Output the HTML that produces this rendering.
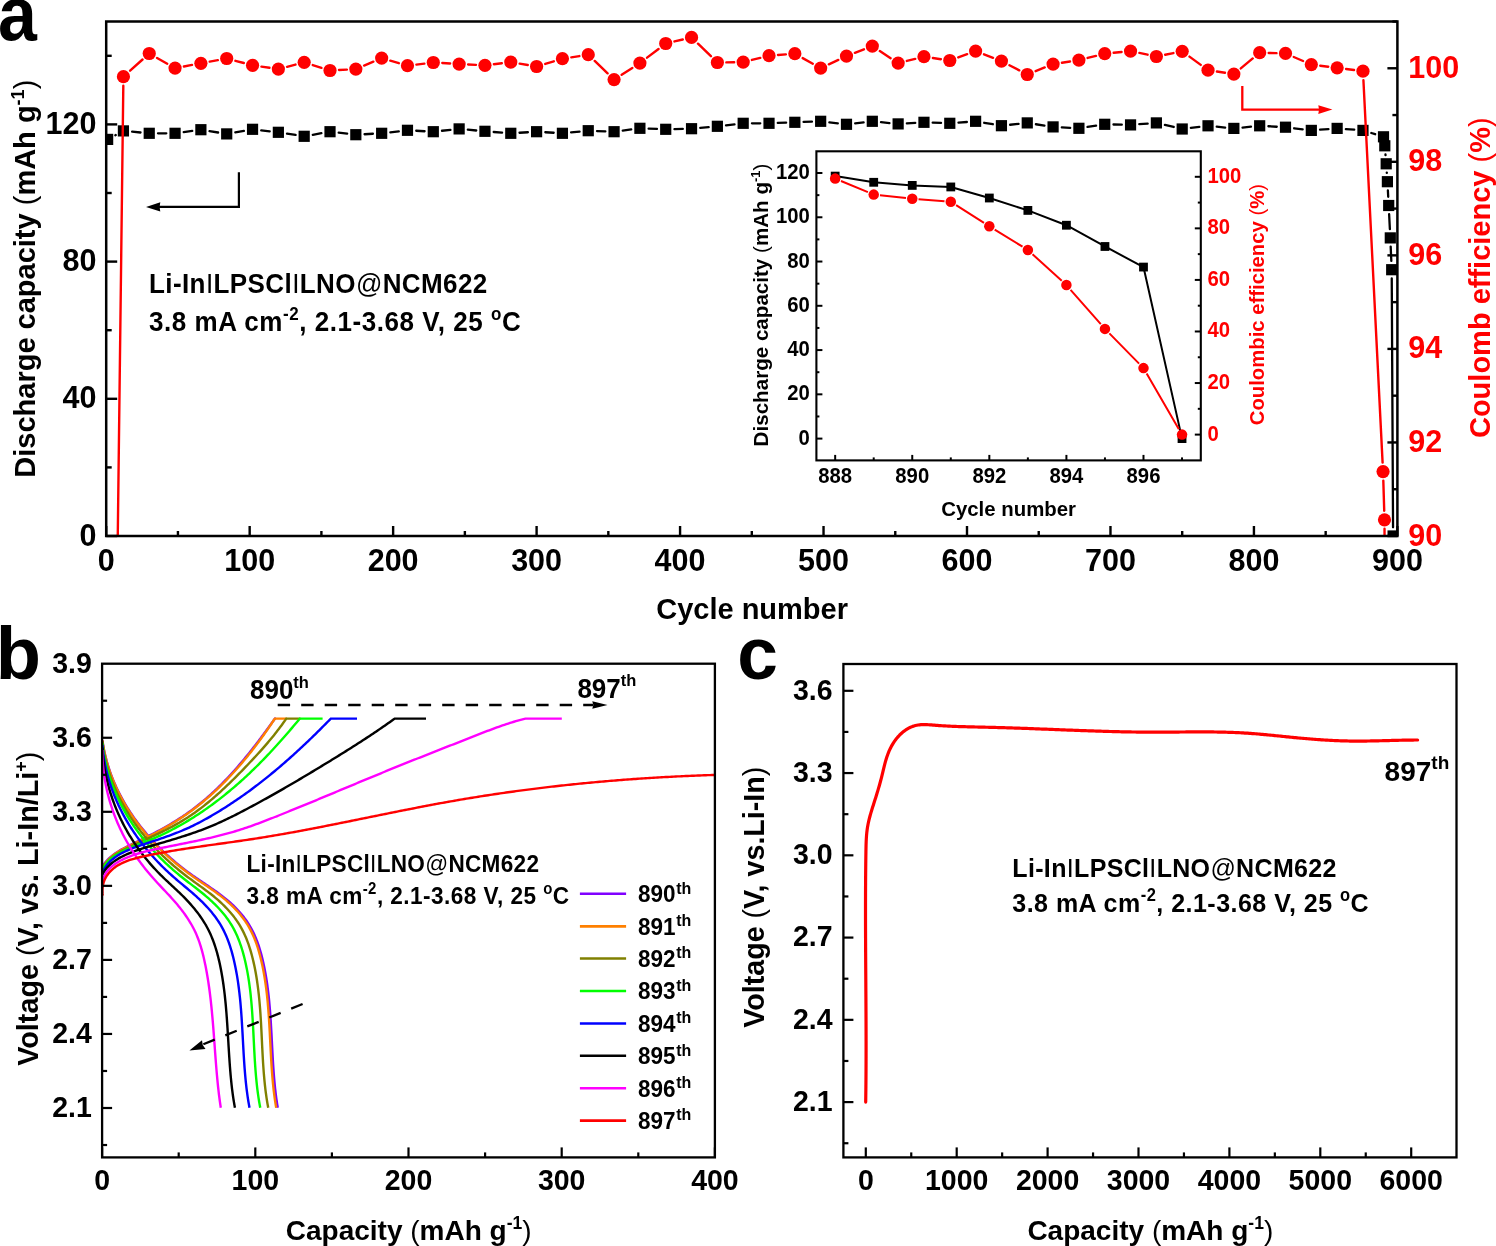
<!DOCTYPE html>
<html><head><meta charset="utf-8"><title>Figure</title>
<style>
html,body{margin:0;padding:0;background:#fff;}
body{width:1496px;height:1246px;overflow:hidden;}
svg{display:block;will-change:transform;}
svg text{font-family:"Liberation Sans", sans-serif;}
</style></head><body>
<svg width="1496" height="1246" viewBox="0 0 1496 1246">
<rect x="0" y="0" width="1496" height="1246" fill="#fff"/>
<defs><clipPath id="clipA"><rect x="106.2" y="21.5" width="1291.2" height="514.5"/></clipPath>
<clipPath id="clipI"><rect x="816.4" y="151.3" width="384.4" height="309.1"/></clipPath>
<clipPath id="clipB"><rect x="102.1" y="663.7" width="612.8" height="493.7"/></clipPath>
<clipPath id="clipC"><rect x="843.4" y="664" width="613.1" height="493.4"/></clipPath></defs>
<g clip-path="url(#clipA)">
<path d="M115.34,135.25L115.71,135.05 M132.13,131.71L140.53,132.49 M157.99,133.3L166.31,133.3 M183.73,132.09L192.22,130.91 M209.52,131.1L218.08,132.5 M235.33,132.37L243.92,130.83 M261.23,130.31L269.67,131.29 M287.01,133.64L295.54,134.96 M312.8,134.77L321.39,133.23 M338.7,132.71L347.14,133.69 M364.57,134.23L372.92,133.77 M390.35,132.29L398.79,131.31 M416.22,130.77L424.57,131.23 M442,130.76L450.43,129.84 M467.84,129.71L476.24,130.49 M493.68,131.98L502.05,132.62 M519.51,132.76L527.87,132.24 M545.33,132.24L553.69,132.76 M571.13,132.42L579.54,131.58 M596.99,131.04L605.33,131.36 M622.75,130.56L631.22,129.44 M648.64,128.64L656.98,128.96 M674.47,129.1L682.8,128.9 M700.26,127.89L708.66,127.11 M726.06,125.29L734.5,124.31 M751.94,123.3L760.27,123.3 M777.76,122.96L786.1,122.64 M803.58,121.96L811.92,121.64 M829.36,122.31L837.8,123.29 M855.18,123.29L863.62,122.31 M881.02,122.18L889.43,123.02 M906.87,123.36L915.23,122.84 M932.7,122.64L941.04,122.96 M958.51,122.62L966.88,121.98 M984.23,122.77L992.81,124.23 M1010.13,124.76L1018.56,123.84 M1035.9,124.24L1044.43,125.56 M1061.82,127.37L1070.17,127.83 M1087.55,126.96L1096.08,125.64 M1113.48,124.5L1121.8,124.7 M1139.28,124.22L1147.65,123.58 M1164.89,124.91L1173.68,126.99 M1190.88,127.92L1199.34,126.88 M1216.73,126.68L1225.14,127.52 M1242.55,127.52L1250.97,126.68 M1268.41,126.27L1276.76,126.73 M1294.18,128.28L1302.64,129.32 M1320.04,129.72L1328.42,129.08 M1345.87,129.08L1354.24,129.72 M1371.32,133L1375.15,134.2 M1385.48,154.52L1385.52,155.08 M1386.79,172.53L1386.81,172.97 M1387.88,190.44L1388.22,196.76 M1389.13,214.24L1389.87,229.16 M1390.68,246.64L1391.32,260.96 M1391.75,278.45L1393.05,527.25" fill="none" stroke="#000" stroke-width="2.3" stroke-linecap="round"/>
<rect x="102.03" y="133.8" width="11.2" height="11.2" fill="#000"/>
<rect x="117.82" y="125.3" width="11.2" height="11.2" fill="#000"/>
<rect x="143.64" y="127.7" width="11.2" height="11.2" fill="#000"/>
<rect x="169.46" y="127.7" width="11.2" height="11.2" fill="#000"/>
<rect x="195.29" y="124.1" width="11.2" height="11.2" fill="#000"/>
<rect x="221.11" y="128.3" width="11.2" height="11.2" fill="#000"/>
<rect x="246.94" y="123.7" width="11.2" height="11.2" fill="#000"/>
<rect x="272.76" y="126.7" width="11.2" height="11.2" fill="#000"/>
<rect x="298.58" y="130.7" width="11.2" height="11.2" fill="#000"/>
<rect x="324.41" y="126.1" width="11.2" height="11.2" fill="#000"/>
<rect x="350.23" y="129.1" width="11.2" height="11.2" fill="#000"/>
<rect x="376.06" y="127.7" width="11.2" height="11.2" fill="#000"/>
<rect x="401.88" y="124.7" width="11.2" height="11.2" fill="#000"/>
<rect x="427.7" y="126.1" width="11.2" height="11.2" fill="#000"/>
<rect x="453.53" y="123.3" width="11.2" height="11.2" fill="#000"/>
<rect x="479.35" y="125.7" width="11.2" height="11.2" fill="#000"/>
<rect x="505.18" y="127.7" width="11.2" height="11.2" fill="#000"/>
<rect x="531" y="126.1" width="11.2" height="11.2" fill="#000"/>
<rect x="556.82" y="127.7" width="11.2" height="11.2" fill="#000"/>
<rect x="582.65" y="125.1" width="11.2" height="11.2" fill="#000"/>
<rect x="608.47" y="126.1" width="11.2" height="11.2" fill="#000"/>
<rect x="634.3" y="122.7" width="11.2" height="11.2" fill="#000"/>
<rect x="660.12" y="123.7" width="11.2" height="11.2" fill="#000"/>
<rect x="685.94" y="123.1" width="11.2" height="11.2" fill="#000"/>
<rect x="711.77" y="120.7" width="11.2" height="11.2" fill="#000"/>
<rect x="737.59" y="117.7" width="11.2" height="11.2" fill="#000"/>
<rect x="763.42" y="117.7" width="11.2" height="11.2" fill="#000"/>
<rect x="789.24" y="116.7" width="11.2" height="11.2" fill="#000"/>
<rect x="815.06" y="115.7" width="11.2" height="11.2" fill="#000"/>
<rect x="840.89" y="118.7" width="11.2" height="11.2" fill="#000"/>
<rect x="866.71" y="115.7" width="11.2" height="11.2" fill="#000"/>
<rect x="892.54" y="118.3" width="11.2" height="11.2" fill="#000"/>
<rect x="918.36" y="116.7" width="11.2" height="11.2" fill="#000"/>
<rect x="944.18" y="117.7" width="11.2" height="11.2" fill="#000"/>
<rect x="970.01" y="115.7" width="11.2" height="11.2" fill="#000"/>
<rect x="995.83" y="120.1" width="11.2" height="11.2" fill="#000"/>
<rect x="1021.66" y="117.3" width="11.2" height="11.2" fill="#000"/>
<rect x="1047.48" y="121.3" width="11.2" height="11.2" fill="#000"/>
<rect x="1073.3" y="122.7" width="11.2" height="11.2" fill="#000"/>
<rect x="1099.13" y="118.7" width="11.2" height="11.2" fill="#000"/>
<rect x="1124.95" y="119.3" width="11.2" height="11.2" fill="#000"/>
<rect x="1150.78" y="117.3" width="11.2" height="11.2" fill="#000"/>
<rect x="1176.6" y="123.4" width="11.2" height="11.2" fill="#000"/>
<rect x="1202.42" y="120.2" width="11.2" height="11.2" fill="#000"/>
<rect x="1228.25" y="122.8" width="11.2" height="11.2" fill="#000"/>
<rect x="1254.07" y="120.2" width="11.2" height="11.2" fill="#000"/>
<rect x="1279.9" y="121.6" width="11.2" height="11.2" fill="#000"/>
<rect x="1305.72" y="124.8" width="11.2" height="11.2" fill="#000"/>
<rect x="1331.54" y="122.8" width="11.2" height="11.2" fill="#000"/>
<rect x="1357.37" y="124.8" width="11.2" height="11.2" fill="#000"/>
<rect x="1377.9" y="131.2" width="11.2" height="11.2" fill="#000"/>
<rect x="1379.2" y="140.2" width="11.2" height="11.2" fill="#000"/>
<rect x="1380.6" y="158.2" width="11.2" height="11.2" fill="#000"/>
<rect x="1381.8" y="176.1" width="11.2" height="11.2" fill="#000"/>
<rect x="1383.1" y="199.9" width="11.2" height="11.2" fill="#000"/>
<rect x="1384.7" y="232.3" width="11.2" height="11.2" fill="#000"/>
<rect x="1386.1" y="264.1" width="11.2" height="11.2" fill="#000"/>
<rect x="1387.5" y="530.4" width="11.2" height="11.2" fill="#000"/>
<path d="M107.75,1349L123.31,85.7 M130.11,70.69L142.54,59.51 M157.07,57.93L167.23,63.67 M183.91,66.46L192.04,64.94 M209.74,61.66L217.86,60.14 M235.42,60.79L243.83,63.01 M261.44,66.61L269.46,67.79 M287.06,66.81L295.48,64.59 M312.76,65.02L321.43,67.78 M338.99,70.01L346.85,69.59 M364.11,65.57L373.38,61.63 M390.29,60.64L398.85,63.16 M416.41,64.59L424.37,63.61 M442.29,63.06L450.15,63.54 M468.12,64.52L475.96,64.88 M493.88,64.19L501.84,63.21 M519.65,63.61L527.73,64.99 M545.22,63.9L553.81,61.3 M571.32,57.32L579.35,56.08 M594.73,60.95L607.59,73.35 M621.66,74.75L632.31,67.95 M647.06,57.66L658.55,48.94 M674.48,41.43L682.79,39.47 M698,43.67L710.91,56.23 M726.37,62.36L734.19,62.24 M751.93,59.94L760.28,57.86 M777.99,55.01L785.87,54.39 M802.7,58.08L812.8,63.72 M828.83,64.31L838.33,59.89 M854.88,52.85L863.92,49.35 M879.83,51.05L890.62,58.15 M906.87,60.94L915.22,58.86 M932.86,58.01L940.88,59.19 M958.24,57.42L967.15,54.18 M984,54.35L993.04,57.85 M1009.42,65.25L1019.27,70.35 M1035.6,71.14L1044.73,67.46 M1061.97,62.72L1070.01,61.48 M1087.64,57.94L1095.99,55.86 M1113.68,52.8L1121.6,52 M1139.36,52.94L1147.57,54.66 M1165.2,54.72L1173.38,53.08 M1189.46,56.62L1200.76,64.88 M1216.92,71.54L1224.95,72.76 M1240.78,68.36L1252.74,58.44 M1268.67,52.94L1276.5,53.16 M1293.75,56.98L1303.06,61.02 M1320.25,65.71L1328.21,66.69 M1346.07,68.97L1354.05,70.03 M1363.42,80.19L1382.6,462.61 M1383.32,480.6L1384.22,510.8 M1384.52,528.8L1385.89,957.31 M1385.94,975.31L1393.08,4736.55" fill="none" stroke="#ff0000" stroke-width="2.4" stroke-linecap="round"/>
<circle cx="123.42" cy="76.7" r="6.6" fill="#ff0000"/>
<circle cx="149.24" cy="53.5" r="6.6" fill="#ff0000"/>
<circle cx="175.06" cy="68.1" r="6.6" fill="#ff0000"/>
<circle cx="200.89" cy="63.3" r="6.6" fill="#ff0000"/>
<circle cx="226.71" cy="58.5" r="6.6" fill="#ff0000"/>
<circle cx="252.54" cy="65.3" r="6.6" fill="#ff0000"/>
<circle cx="278.36" cy="69.1" r="6.6" fill="#ff0000"/>
<circle cx="304.18" cy="62.3" r="6.6" fill="#ff0000"/>
<circle cx="330.01" cy="70.5" r="6.6" fill="#ff0000"/>
<circle cx="355.83" cy="69.1" r="6.6" fill="#ff0000"/>
<circle cx="381.66" cy="58.1" r="6.6" fill="#ff0000"/>
<circle cx="407.48" cy="65.7" r="6.6" fill="#ff0000"/>
<circle cx="433.3" cy="62.5" r="6.6" fill="#ff0000"/>
<circle cx="459.13" cy="64.1" r="6.6" fill="#ff0000"/>
<circle cx="484.95" cy="65.3" r="6.6" fill="#ff0000"/>
<circle cx="510.78" cy="62.1" r="6.6" fill="#ff0000"/>
<circle cx="536.6" cy="66.5" r="6.6" fill="#ff0000"/>
<circle cx="562.42" cy="58.7" r="6.6" fill="#ff0000"/>
<circle cx="588.25" cy="54.7" r="6.6" fill="#ff0000"/>
<circle cx="614.07" cy="79.6" r="6.6" fill="#ff0000"/>
<circle cx="639.9" cy="63.1" r="6.6" fill="#ff0000"/>
<circle cx="665.72" cy="43.5" r="6.6" fill="#ff0000"/>
<circle cx="691.54" cy="37.4" r="6.6" fill="#ff0000"/>
<circle cx="717.37" cy="62.5" r="6.6" fill="#ff0000"/>
<circle cx="743.19" cy="62.1" r="6.6" fill="#ff0000"/>
<circle cx="769.02" cy="55.7" r="6.6" fill="#ff0000"/>
<circle cx="794.84" cy="53.7" r="6.6" fill="#ff0000"/>
<circle cx="820.66" cy="68.1" r="6.6" fill="#ff0000"/>
<circle cx="846.49" cy="56.1" r="6.6" fill="#ff0000"/>
<circle cx="872.31" cy="46.1" r="6.6" fill="#ff0000"/>
<circle cx="898.14" cy="63.1" r="6.6" fill="#ff0000"/>
<circle cx="923.96" cy="56.7" r="6.6" fill="#ff0000"/>
<circle cx="949.78" cy="60.5" r="6.6" fill="#ff0000"/>
<circle cx="975.61" cy="51.1" r="6.6" fill="#ff0000"/>
<circle cx="1001.43" cy="61.1" r="6.6" fill="#ff0000"/>
<circle cx="1027.26" cy="74.5" r="6.6" fill="#ff0000"/>
<circle cx="1053.08" cy="64.1" r="6.6" fill="#ff0000"/>
<circle cx="1078.9" cy="60.1" r="6.6" fill="#ff0000"/>
<circle cx="1104.73" cy="53.7" r="6.6" fill="#ff0000"/>
<circle cx="1130.55" cy="51.1" r="6.6" fill="#ff0000"/>
<circle cx="1156.38" cy="56.5" r="6.6" fill="#ff0000"/>
<circle cx="1182.2" cy="51.3" r="6.6" fill="#ff0000"/>
<circle cx="1208.02" cy="70.2" r="6.6" fill="#ff0000"/>
<circle cx="1233.85" cy="74.1" r="6.6" fill="#ff0000"/>
<circle cx="1259.67" cy="52.7" r="6.6" fill="#ff0000"/>
<circle cx="1285.5" cy="53.4" r="6.6" fill="#ff0000"/>
<circle cx="1311.32" cy="64.6" r="6.6" fill="#ff0000"/>
<circle cx="1337.14" cy="67.8" r="6.6" fill="#ff0000"/>
<circle cx="1362.97" cy="71.2" r="6.6" fill="#ff0000"/>
<circle cx="1383.05" cy="471.6" r="6.6" fill="#ff0000"/>
<circle cx="1384.49" cy="519.8" r="6.6" fill="#ff0000"/>
</g>
<polyline points="238.9,172.2 238.9,206.9 158,206.9" fill="none" stroke="#000" stroke-width="2.2" stroke-linejoin="miter" stroke-linecap="butt" />
<polygon points="146,206.9 160.3,202.3 159.6,206.9 160.3,211.5" fill="#000"/>
<polyline points="1242.3,86.1 1242.3,109.6 1320,109.6" fill="none" stroke="#ff0000" stroke-width="2.3" stroke-linejoin="miter" stroke-linecap="butt" />
<polygon points="1332.4,109.6 1318.3,105.2 1319,109.6 1318.3,114" fill="#ff0000"/>
<rect x="106.2" y="21.5" width="1291.2" height="514.5" fill="none" stroke="#000" stroke-width="2.5"/>
<line x1="106.2" y1="536" x2="117.2" y2="536" stroke="#000" stroke-width="2.4" />
<line x1="106.2" y1="467.4" x2="111.7" y2="467.4" stroke="#000" stroke-width="2.4" />
<line x1="106.2" y1="398.8" x2="117.2" y2="398.8" stroke="#000" stroke-width="2.4" />
<line x1="106.2" y1="330.2" x2="111.7" y2="330.2" stroke="#000" stroke-width="2.4" />
<line x1="106.2" y1="261.6" x2="117.2" y2="261.6" stroke="#000" stroke-width="2.4" />
<line x1="106.2" y1="193" x2="111.7" y2="193" stroke="#000" stroke-width="2.4" />
<line x1="106.2" y1="124.4" x2="117.2" y2="124.4" stroke="#000" stroke-width="2.4" />
<line x1="106.2" y1="55.8" x2="111.7" y2="55.8" stroke="#000" stroke-width="2.4" />
<text x="96.5" y="545.5" font-size="30.5" text-anchor="end" fill="#000" font-weight="bold" >0</text>
<text x="96.5" y="408.3" font-size="30.5" text-anchor="end" fill="#000" font-weight="bold" >40</text>
<text x="96.5" y="271.1" font-size="30.5" text-anchor="end" fill="#000" font-weight="bold" >80</text>
<text x="96.5" y="133.9" font-size="30.5" text-anchor="end" fill="#000" font-weight="bold" >120</text>
<line x1="1387.4" y1="536" x2="1397.4" y2="536" stroke="#000" stroke-width="2.4" />
<line x1="1392.4" y1="489.23" x2="1397.4" y2="489.23" stroke="#000" stroke-width="2.4" />
<line x1="1387.4" y1="442.45" x2="1397.4" y2="442.45" stroke="#000" stroke-width="2.4" />
<line x1="1392.4" y1="395.68" x2="1397.4" y2="395.68" stroke="#000" stroke-width="2.4" />
<line x1="1387.4" y1="348.91" x2="1397.4" y2="348.91" stroke="#000" stroke-width="2.4" />
<line x1="1392.4" y1="302.14" x2="1397.4" y2="302.14" stroke="#000" stroke-width="2.4" />
<line x1="1387.4" y1="255.36" x2="1397.4" y2="255.36" stroke="#000" stroke-width="2.4" />
<line x1="1392.4" y1="208.59" x2="1397.4" y2="208.59" stroke="#000" stroke-width="2.4" />
<line x1="1387.4" y1="161.82" x2="1397.4" y2="161.82" stroke="#000" stroke-width="2.4" />
<line x1="1392.4" y1="115.05" x2="1397.4" y2="115.05" stroke="#000" stroke-width="2.4" />
<line x1="1387.4" y1="68.27" x2="1397.4" y2="68.27" stroke="#000" stroke-width="2.4" />
<line x1="1392.4" y1="21.5" x2="1397.4" y2="21.5" stroke="#000" stroke-width="2.4" />
<text x="1408.3" y="545.5" font-size="30.5" text-anchor="start" fill="#ff0000" font-weight="bold" >90</text>
<text x="1408.3" y="451.95" font-size="30.5" text-anchor="start" fill="#ff0000" font-weight="bold" >92</text>
<text x="1408.3" y="358.41" font-size="30.5" text-anchor="start" fill="#ff0000" font-weight="bold" >94</text>
<text x="1408.3" y="264.86" font-size="30.5" text-anchor="start" fill="#ff0000" font-weight="bold" >96</text>
<text x="1408.3" y="171.32" font-size="30.5" text-anchor="start" fill="#ff0000" font-weight="bold" >98</text>
<text x="1408.3" y="77.77" font-size="30.5" text-anchor="start" fill="#ff0000" font-weight="bold" >100</text>
<line x1="106.2" y1="526" x2="106.2" y2="536" stroke="#000" stroke-width="2.4" />
<line x1="177.93" y1="531" x2="177.93" y2="536" stroke="#000" stroke-width="2.4" />
<line x1="249.67" y1="526" x2="249.67" y2="536" stroke="#000" stroke-width="2.4" />
<line x1="321.4" y1="531" x2="321.4" y2="536" stroke="#000" stroke-width="2.4" />
<line x1="393.13" y1="526" x2="393.13" y2="536" stroke="#000" stroke-width="2.4" />
<line x1="464.87" y1="531" x2="464.87" y2="536" stroke="#000" stroke-width="2.4" />
<line x1="536.6" y1="526" x2="536.6" y2="536" stroke="#000" stroke-width="2.4" />
<line x1="608.33" y1="531" x2="608.33" y2="536" stroke="#000" stroke-width="2.4" />
<line x1="680.07" y1="526" x2="680.07" y2="536" stroke="#000" stroke-width="2.4" />
<line x1="751.8" y1="531" x2="751.8" y2="536" stroke="#000" stroke-width="2.4" />
<line x1="823.53" y1="526" x2="823.53" y2="536" stroke="#000" stroke-width="2.4" />
<line x1="895.27" y1="531" x2="895.27" y2="536" stroke="#000" stroke-width="2.4" />
<line x1="967" y1="526" x2="967" y2="536" stroke="#000" stroke-width="2.4" />
<line x1="1038.73" y1="531" x2="1038.73" y2="536" stroke="#000" stroke-width="2.4" />
<line x1="1110.47" y1="526" x2="1110.47" y2="536" stroke="#000" stroke-width="2.4" />
<line x1="1182.2" y1="531" x2="1182.2" y2="536" stroke="#000" stroke-width="2.4" />
<line x1="1253.93" y1="526" x2="1253.93" y2="536" stroke="#000" stroke-width="2.4" />
<line x1="1325.67" y1="531" x2="1325.67" y2="536" stroke="#000" stroke-width="2.4" />
<line x1="1397.4" y1="526" x2="1397.4" y2="536" stroke="#000" stroke-width="2.4" />
<text x="106.2" y="570.6" font-size="30.5" text-anchor="middle" fill="#000" font-weight="bold" >0</text>
<text x="249.67" y="570.6" font-size="30.5" text-anchor="middle" fill="#000" font-weight="bold" >100</text>
<text x="393.13" y="570.6" font-size="30.5" text-anchor="middle" fill="#000" font-weight="bold" >200</text>
<text x="536.6" y="570.6" font-size="30.5" text-anchor="middle" fill="#000" font-weight="bold" >300</text>
<text x="680.07" y="570.6" font-size="30.5" text-anchor="middle" fill="#000" font-weight="bold" >400</text>
<text x="823.53" y="570.6" font-size="30.5" text-anchor="middle" fill="#000" font-weight="bold" >500</text>
<text x="967" y="570.6" font-size="30.5" text-anchor="middle" fill="#000" font-weight="bold" >600</text>
<text x="1110.47" y="570.6" font-size="30.5" text-anchor="middle" fill="#000" font-weight="bold" >700</text>
<text x="1253.93" y="570.6" font-size="30.5" text-anchor="middle" fill="#000" font-weight="bold" >800</text>
<text x="1397.4" y="570.6" font-size="30.5" text-anchor="middle" fill="#000" font-weight="bold" >900</text>
<text transform="translate(35,278.7) rotate(-90)" font-size="29" font-weight="bold" text-anchor="middle" fill="#000">Discharge capacity <tspan font-weight="normal">(</tspan>mAh g<tspan dy="-11" font-size="18">-1</tspan><tspan dy="11" font-weight="normal">)</tspan></text>
<text transform="translate(1489.7,277.7) rotate(-90)" font-size="29" font-weight="bold" text-anchor="middle" fill="#ff0000">Coulomb efficiency <tspan font-weight="normal">(</tspan>%<tspan font-weight="normal">)</tspan></text>
<text x="752.1" y="618.6" font-size="29" text-anchor="middle" fill="#000" font-weight="bold" >Cycle number</text>
<text transform="translate(149,293.4) scale(1,1.06)" font-size="26" font-weight="bold" letter-spacing="0.41" fill="#000">Li-In<tspan font-weight="normal">I</tspan>LPSCl<tspan font-weight="normal">I</tspan>LNO<tspan font-weight="normal">@</tspan>NCM622</text>
<text transform="translate(149,330.9) scale(1,1.06)" font-size="26" font-weight="bold" letter-spacing="0.55" fill="#000">3.8 mA cm<tspan dy="-10.5" font-size="17">-2</tspan><tspan dy="10.5">, 2.1-3.68 V, 25 </tspan><tspan dy="-10.5" font-size="17">o</tspan><tspan dy="10.5">C</tspan></text>
<text transform="translate(-2.0,40.0) scale(0.92,1)" font-size="76" font-weight="bold" fill="#000">a</text>
<rect x="816.4" y="151.3" width="384.4" height="309.1" fill="#fff" stroke="none"/>
<g clip-path="url(#clipI)">
<polyline points="835.17,176.1 873.71,182.3 912.25,185.4 950.79,186.95 989.33,198.01 1027.87,210.41 1066.41,225.24 1104.95,246.49 1143.49,267.07 1182.03,438.6" fill="none" stroke="#000" stroke-width="2.0" stroke-linejoin="round" stroke-linecap="butt" />
<rect x="830.77" y="171.7" width="8.8" height="8.8" fill="#000"/>
<rect x="869.31" y="177.9" width="8.8" height="8.8" fill="#000"/>
<rect x="907.85" y="181" width="8.8" height="8.8" fill="#000"/>
<rect x="946.39" y="182.55" width="8.8" height="8.8" fill="#000"/>
<rect x="984.93" y="193.61" width="8.8" height="8.8" fill="#000"/>
<rect x="1023.47" y="206.01" width="8.8" height="8.8" fill="#000"/>
<rect x="1062.01" y="220.84" width="8.8" height="8.8" fill="#000"/>
<rect x="1100.55" y="242.09" width="8.8" height="8.8" fill="#000"/>
<rect x="1139.09" y="262.67" width="8.8" height="8.8" fill="#000"/>
<rect x="1177.63" y="434.2" width="8.8" height="8.8" fill="#000"/>
<path d="M840.99,181.02L867.89,192.17 M879.97,195.26L905.99,198.04 M918.53,199.22L944.51,201.3 M956.11,205.19L984.01,222.92 M994.7,229.6L1022.5,246.71 M1032.53,254.25L1061.75,280.84 M1070.57,289.81L1100.79,324.17 M1109.37,333.39L1139.07,363.6 M1146.65,373.54L1178.87,429.15" fill="none" stroke="#ff0000" stroke-width="2.0" stroke-linecap="butt"/>
<circle cx="835.17" cy="178.6" r="5.25" fill="#ff0000"/>
<circle cx="873.71" cy="194.59" r="5.25" fill="#ff0000"/>
<circle cx="912.25" cy="198.71" r="5.25" fill="#ff0000"/>
<circle cx="950.79" cy="201.81" r="5.25" fill="#ff0000"/>
<circle cx="989.33" cy="226.3" r="5.25" fill="#ff0000"/>
<circle cx="1027.87" cy="250.02" r="5.25" fill="#ff0000"/>
<circle cx="1066.41" cy="285.08" r="5.25" fill="#ff0000"/>
<circle cx="1104.95" cy="328.9" r="5.25" fill="#ff0000"/>
<circle cx="1143.49" cy="368.09" r="5.25" fill="#ff0000"/>
<circle cx="1182.03" cy="434.6" r="5.25" fill="#ff0000"/>
</g>
<rect x="816.4" y="151.3" width="384.4" height="309.1" fill="none" stroke="#000" stroke-width="2.1"/>
<line x1="816.4" y1="438.6" x2="822.4" y2="438.6" stroke="#000" stroke-width="2.0" />
<line x1="816.4" y1="416.47" x2="819.4" y2="416.47" stroke="#000" stroke-width="2.0" />
<line x1="816.4" y1="394.33" x2="822.4" y2="394.33" stroke="#000" stroke-width="2.0" />
<line x1="816.4" y1="372.2" x2="819.4" y2="372.2" stroke="#000" stroke-width="2.0" />
<line x1="816.4" y1="350.07" x2="822.4" y2="350.07" stroke="#000" stroke-width="2.0" />
<line x1="816.4" y1="327.94" x2="819.4" y2="327.94" stroke="#000" stroke-width="2.0" />
<line x1="816.4" y1="305.8" x2="822.4" y2="305.8" stroke="#000" stroke-width="2.0" />
<line x1="816.4" y1="283.67" x2="819.4" y2="283.67" stroke="#000" stroke-width="2.0" />
<line x1="816.4" y1="261.54" x2="822.4" y2="261.54" stroke="#000" stroke-width="2.0" />
<line x1="816.4" y1="239.4" x2="819.4" y2="239.4" stroke="#000" stroke-width="2.0" />
<line x1="816.4" y1="217.27" x2="822.4" y2="217.27" stroke="#000" stroke-width="2.0" />
<line x1="816.4" y1="195.14" x2="819.4" y2="195.14" stroke="#000" stroke-width="2.0" />
<line x1="816.4" y1="173" x2="822.4" y2="173" stroke="#000" stroke-width="2.0" />
<text transform="translate(809.8,444.7) scale(1,1.065)" font-size="20.3" text-anchor="end" fill="#000" font-weight="bold" >0</text>
<text transform="translate(809.8,400.43) scale(1,1.065)" font-size="20.3" text-anchor="end" fill="#000" font-weight="bold" >20</text>
<text transform="translate(809.8,356.17) scale(1,1.065)" font-size="20.3" text-anchor="end" fill="#000" font-weight="bold" >40</text>
<text transform="translate(809.8,311.9) scale(1,1.065)" font-size="20.3" text-anchor="end" fill="#000" font-weight="bold" >60</text>
<text transform="translate(809.8,267.64) scale(1,1.065)" font-size="20.3" text-anchor="end" fill="#000" font-weight="bold" >80</text>
<text transform="translate(809.8,223.37) scale(1,1.065)" font-size="20.3" text-anchor="end" fill="#000" font-weight="bold" >100</text>
<text transform="translate(809.8,179.1) scale(1,1.065)" font-size="20.3" text-anchor="end" fill="#000" font-weight="bold" >120</text>
<line x1="1194.8" y1="434.6" x2="1200.8" y2="434.6" stroke="#000" stroke-width="2.0" />
<line x1="1197.8" y1="408.82" x2="1200.8" y2="408.82" stroke="#000" stroke-width="2.0" />
<line x1="1194.8" y1="383.04" x2="1200.8" y2="383.04" stroke="#000" stroke-width="2.0" />
<line x1="1197.8" y1="357.26" x2="1200.8" y2="357.26" stroke="#000" stroke-width="2.0" />
<line x1="1194.8" y1="331.48" x2="1200.8" y2="331.48" stroke="#000" stroke-width="2.0" />
<line x1="1197.8" y1="305.7" x2="1200.8" y2="305.7" stroke="#000" stroke-width="2.0" />
<line x1="1194.8" y1="279.92" x2="1200.8" y2="279.92" stroke="#000" stroke-width="2.0" />
<line x1="1197.8" y1="254.14" x2="1200.8" y2="254.14" stroke="#000" stroke-width="2.0" />
<line x1="1194.8" y1="228.36" x2="1200.8" y2="228.36" stroke="#000" stroke-width="2.0" />
<line x1="1197.8" y1="202.58" x2="1200.8" y2="202.58" stroke="#000" stroke-width="2.0" />
<line x1="1194.8" y1="176.8" x2="1200.8" y2="176.8" stroke="#000" stroke-width="2.0" />
<text transform="translate(1207.5,440.6) scale(1,1.065)" font-size="20.3" text-anchor="start" fill="#ff0000" font-weight="bold" >0</text>
<text transform="translate(1207.5,389.04) scale(1,1.065)" font-size="20.3" text-anchor="start" fill="#ff0000" font-weight="bold" >20</text>
<text transform="translate(1207.5,337.48) scale(1,1.065)" font-size="20.3" text-anchor="start" fill="#ff0000" font-weight="bold" >40</text>
<text transform="translate(1207.5,285.92) scale(1,1.065)" font-size="20.3" text-anchor="start" fill="#ff0000" font-weight="bold" >60</text>
<text transform="translate(1207.5,234.36) scale(1,1.065)" font-size="20.3" text-anchor="start" fill="#ff0000" font-weight="bold" >80</text>
<text transform="translate(1207.5,182.8) scale(1,1.065)" font-size="20.3" text-anchor="start" fill="#ff0000" font-weight="bold" >100</text>
<line x1="835.17" y1="454.9" x2="835.17" y2="460.4" stroke="#000" stroke-width="2.0" />
<line x1="873.71" y1="457.4" x2="873.71" y2="460.4" stroke="#000" stroke-width="2.0" />
<line x1="912.25" y1="454.9" x2="912.25" y2="460.4" stroke="#000" stroke-width="2.0" />
<line x1="950.79" y1="457.4" x2="950.79" y2="460.4" stroke="#000" stroke-width="2.0" />
<line x1="989.33" y1="454.9" x2="989.33" y2="460.4" stroke="#000" stroke-width="2.0" />
<line x1="1027.87" y1="457.4" x2="1027.87" y2="460.4" stroke="#000" stroke-width="2.0" />
<line x1="1066.41" y1="454.9" x2="1066.41" y2="460.4" stroke="#000" stroke-width="2.0" />
<line x1="1104.95" y1="457.4" x2="1104.95" y2="460.4" stroke="#000" stroke-width="2.0" />
<line x1="1143.49" y1="454.9" x2="1143.49" y2="460.4" stroke="#000" stroke-width="2.0" />
<line x1="1182.03" y1="457.4" x2="1182.03" y2="460.4" stroke="#000" stroke-width="2.0" />
<text transform="translate(835.17,483.3) scale(1,1.065)" font-size="20.3" text-anchor="middle" fill="#000" font-weight="bold" >888</text>
<text transform="translate(912.25,483.3) scale(1,1.065)" font-size="20.3" text-anchor="middle" fill="#000" font-weight="bold" >890</text>
<text transform="translate(989.33,483.3) scale(1,1.065)" font-size="20.3" text-anchor="middle" fill="#000" font-weight="bold" >892</text>
<text transform="translate(1066.41,483.3) scale(1,1.065)" font-size="20.3" text-anchor="middle" fill="#000" font-weight="bold" >894</text>
<text transform="translate(1143.49,483.3) scale(1,1.065)" font-size="20.3" text-anchor="middle" fill="#000" font-weight="bold" >896</text>
<text transform="translate(767.9,305) rotate(-90)" font-size="20.6" font-weight="bold" text-anchor="middle" fill="#000">Discharge capacity <tspan font-weight="normal">(</tspan>mAh g<tspan dy="-7.5" font-size="13">-1</tspan><tspan dy="7.5" font-weight="normal">)</tspan></text>
<text transform="translate(1264,304.6) rotate(-90)" font-size="20.3" font-weight="bold" text-anchor="middle" fill="#ff0000">Coulombic efficiency <tspan font-weight="normal">(</tspan>%<tspan font-weight="normal">)</tspan></text>
<text x="1008.6" y="515.6" font-size="20.4" text-anchor="middle" fill="#000" font-weight="bold" >Cycle number</text>
<g clip-path="url(#clipB)">
<polyline points="102.4,740.4 102.7,742.43 103.02,744.45 103.37,746.46 103.74,748.46 104.14,750.46 104.57,752.45 105.01,754.42 105.48,756.39 105.98,758.35 106.49,760.3 107.03,762.25 107.6,764.18 108.18,766.11 108.79,768.02 109.42,769.93 110.07,771.83 110.75,773.72 111.44,775.6 112.16,777.47 112.9,779.33 113.66,781.18 114.44,783.02 115.24,784.85 116.06,786.68 116.9,788.49 117.76,790.3 118.65,792.09 119.55,793.87 120.47,795.65 121.4,797.42 122.36,799.17 123.34,800.92 124.33,802.65 125.35,804.38 126.38,806.09 127.43,807.8 128.49,809.49 129.58,811.18 130.68,812.85 131.8,814.52 132.93,816.17 134.08,817.82 135.25,819.45 136.43,821.07 137.63,822.69 138.85,824.29 140.08,825.88 141.32,827.46 142.59,829.03 143.86,830.59 145.15,832.14 146.46,833.67 147.78,835.2 149.11,836.72 150.46,838.22 151.82,839.71 153.19,841.2 154.58,842.67 155.98,844.13 157.39,845.57 158.81,847.01 160.25,848.44 161.7,849.85 163.16,851.25 164.63,852.64 166.12,854.02 167.61,855.39 169.12,856.75 170.64,858.09 172.17,859.43 173.7,860.75 175.25,862.05 176.81,863.35 178.38,864.64 179.96,865.91 181.54,867.17 183.14,868.42 184.74,869.66 186.36,870.88 187.98,872.09 189.61,873.29 191.25,874.48 192.89,875.65 194.55,876.82 196.21,877.97 197.87,879.11 199.54,880.24 201.22,881.37 202.89,882.49 204.57,883.62 206.24,884.74 207.91,885.86 209.58,886.99 211.24,888.12 212.9,889.26 214.55,890.4 216.19,891.56 217.82,892.73 219.44,893.92 221.04,895.12 222.64,896.34 224.22,897.58 225.78,898.84 227.32,900.12 228.84,901.43 230.35,902.76 231.83,904.12 233.29,905.49 234.73,906.89 236.14,908.32 237.52,909.76 238.87,911.23 240.2,912.73 241.49,914.24 242.76,915.79 243.99,917.35 245.18,918.94 246.34,920.55 247.46,922.19 248.55,923.85 249.59,925.54 250.6,927.25 251.56,928.98 252.48,930.74 253.37,932.52 254.21,934.32 255.02,936.14 255.8,937.97 256.54,939.83 257.26,941.7 257.94,943.58 258.59,945.48 259.21,947.4 259.81,949.32 260.38,951.26 260.93,953.2 261.46,955.15 261.96,957.11 262.45,959.08 262.92,961.05 263.37,963.03 263.8,965.01 264.22,966.99 264.62,968.98 265,970.97 265.37,972.97 265.72,974.97 266.06,976.97 266.39,978.98 266.7,980.99 267,983 267.29,985.02 267.56,987.04 267.83,989.06 268.08,991.08 268.32,993.11 268.55,995.14 268.77,997.17 268.98,999.2 269.18,1001.23 269.37,1003.27 269.55,1005.3 269.73,1007.34 269.89,1009.38 270.05,1011.42 270.21,1013.46 270.36,1015.5 270.5,1017.55 270.63,1019.59 270.77,1021.63 270.89,1023.68 271.01,1025.72 271.13,1027.76 271.25,1029.8 271.36,1031.85 271.47,1033.89 271.58,1035.93 271.69,1037.97 271.79,1040.01 271.9,1042.05 272,1044.08 272.11,1046.12 272.21,1048.15 272.32,1050.18 272.42,1052.21 272.53,1054.24 272.64,1056.27 272.76,1058.29 272.88,1060.31 273,1062.33 273.12,1064.35 273.25,1066.36 273.39,1068.37 273.53,1070.38 273.67,1072.38 273.82,1074.38 273.98,1076.37 274.15,1078.37 274.32,1080.36 274.5,1082.34 274.69,1084.32 274.88,1086.3 275.09,1088.27 275.31,1090.23 275.53,1092.2 275.77,1094.15 276.02,1096.1 276.27,1098.05 276.55,1099.99 276.83,1101.93 277.12,1103.86 277.43,1105.78 277.75,1107.7" fill="none" stroke="#8000ff" stroke-width="2.4" stroke-linejoin="round" stroke-linecap="butt" />
<polyline points="101.6,867.9 102.67,866.13 103.8,864.45 105.01,862.85 106.28,861.32 107.61,859.87 109,858.49 110.44,857.17 111.94,855.92 113.47,854.72 115.06,853.57 116.68,852.46 118.34,851.4 120.03,850.38 121.75,849.39 123.49,848.43 125.26,847.5 127.04,846.58 128.85,845.68 130.66,844.8 132.48,843.92 134.31,843.04 136.14,842.16 137.97,841.28 139.79,840.39 141.62,839.49 143.44,838.6 145.26,837.69 147.08,836.78 148.89,835.86 150.71,834.93 152.51,834 154.32,833.06 156.12,832.11 157.91,831.15 159.7,830.19 161.49,829.21 163.26,828.23 165.04,827.23 166.8,826.23 168.56,825.21 170.31,824.19 172.06,823.15 173.79,822.1 175.52,821.04 177.24,819.97 178.95,818.88 180.65,817.78 182.34,816.67 184.02,815.54 185.69,814.4 187.34,813.25 188.99,812.08 190.63,810.89 192.25,809.7 193.87,808.48 195.47,807.26 197.06,806.02 198.65,804.76 200.22,803.5 201.78,802.22 203.33,800.93 204.87,799.62 206.4,798.3 207.92,796.97 209.44,795.63 210.94,794.28 212.43,792.92 213.91,791.54 215.39,790.16 216.85,788.76 218.3,787.35 219.75,785.94 221.19,784.51 222.61,783.07 224.03,781.63 225.44,780.17 226.85,778.71 228.24,777.23 229.62,775.75 231,774.26 232.37,772.76 233.73,771.26 235.09,769.74 236.43,768.22 237.77,766.69 239.1,765.15 240.42,763.61 241.74,762.06 243.05,760.51 244.35,758.95 245.64,757.38 246.93,755.81 248.21,754.23 249.48,752.64 250.75,751.05 252.01,749.46 253.27,747.86 254.52,746.26 255.76,744.66 257,743.05 258.23,741.43 259.45,739.82 260.67,738.2 261.88,736.57 263.09,734.95 264.3,733.32 265.49,731.69 266.69,730.06 267.87,728.43 269.06,726.79 270.23,725.15 271.41,723.52 272.58,721.88 273.74,720.24 274.9,718.6 276,718.6" fill="none" stroke="#8000ff" stroke-width="2.4" stroke-linejoin="miter" stroke-linecap="butt" />
<polyline points="102.4,740.4 102.68,742.42 102.99,744.44 103.33,746.45 103.69,748.45 104.07,750.45 104.48,752.43 104.92,754.41 105.37,756.38 105.86,758.34 106.36,760.29 106.89,762.23 107.44,764.16 108.01,766.08 108.61,768 109.23,769.91 109.87,771.8 110.53,773.69 111.21,775.57 111.92,777.44 112.64,779.3 113.39,781.16 114.16,783 114.95,784.83 115.76,786.66 116.59,788.47 117.44,790.27 118.31,792.07 119.2,793.86 120.11,795.63 121.04,797.4 121.98,799.16 122.95,800.9 123.93,802.64 124.94,804.37 125.96,806.08 126.99,807.79 128.05,809.49 129.12,811.18 130.21,812.85 131.32,814.52 132.45,816.18 133.59,817.82 134.74,819.46 135.92,821.09 137.11,822.7 138.31,824.31 139.53,825.9 140.77,827.48 142.02,829.06 143.28,830.62 144.56,832.17 145.86,833.71 147.17,835.24 148.49,836.76 149.83,838.26 151.18,839.76 152.54,841.25 153.92,842.72 155.31,844.18 156.71,845.64 158.12,847.08 159.55,848.51 160.99,849.92 162.44,851.33 163.9,852.73 165.38,854.11 166.86,855.48 168.36,856.84 169.87,858.19 171.38,859.53 172.91,860.85 174.45,862.16 176,863.46 177.56,864.75 179.12,866.03 180.7,867.3 182.29,868.55 183.88,869.79 185.48,871.02 187.09,872.23 188.71,873.44 190.34,874.63 191.98,875.81 193.62,876.98 195.27,878.13 196.92,879.28 198.58,880.42 200.24,881.55 201.9,882.68 203.57,883.81 205.23,884.94 206.89,886.06 208.54,887.2 210.19,888.34 211.84,889.48 213.47,890.63 215.1,891.8 216.72,892.98 218.33,894.17 219.92,895.38 221.5,896.61 223.06,897.85 224.61,899.12 226.14,900.41 227.66,901.73 229.15,903.06 230.62,904.42 232.06,905.8 233.49,907.21 234.88,908.64 236.26,910.09 237.6,911.56 238.91,913.06 240.2,914.58 241.45,916.13 242.67,917.7 243.85,919.29 245,920.91 246.11,922.55 247.18,924.21 248.22,925.9 249.21,927.61 250.17,929.35 251.08,931.1 251.96,932.88 252.8,934.68 253.6,936.5 254.37,938.34 255.11,940.19 255.81,942.06 256.49,943.95 257.14,945.84 257.76,947.75 258.35,949.68 258.92,951.61 259.47,953.55 259.99,955.5 260.49,957.46 260.98,959.42 261.44,961.39 261.89,963.36 262.32,965.34 262.73,967.32 263.13,969.3 263.51,971.29 263.87,973.28 264.22,975.28 264.56,977.28 264.88,979.28 265.19,981.29 265.49,983.3 265.77,985.31 266.04,987.32 266.3,989.34 266.54,991.36 266.78,993.38 267,995.4 267.22,997.43 267.42,999.46 267.62,1001.49 267.81,1003.52 267.98,1005.55 268.15,1007.58 268.32,1009.62 268.47,1011.65 268.62,1013.69 268.77,1015.73 268.9,1017.76 269.04,1019.8 269.16,1021.84 269.29,1023.88 269.4,1025.92 269.52,1027.96 269.63,1029.99 269.74,1032.03 269.85,1034.07 269.95,1036.11 270.05,1038.14 270.16,1040.17 270.26,1042.21 270.36,1044.24 270.46,1046.27 270.57,1048.3 270.67,1050.33 270.78,1052.35 270.89,1054.37 271,1056.39 271.11,1058.41 271.23,1060.43 271.35,1062.44 271.47,1064.45 271.6,1066.46 271.74,1068.47 271.88,1070.47 272.03,1072.47 272.18,1074.46 272.34,1076.45 272.51,1078.44 272.68,1080.42 272.87,1082.4 273.06,1084.38 273.26,1086.35 273.47,1088.31 273.69,1090.28 273.92,1092.23 274.16,1094.19 274.42,1096.13 274.68,1098.07 274.96,1100.01 275.25,1101.94 275.55,1103.87 275.87,1105.79 276.2,1107.7" fill="none" stroke="#ff8000" stroke-width="2.4" stroke-linejoin="round" stroke-linecap="butt" />
<polyline points="102.4,867.9 103.45,866.09 104.57,864.37 105.77,862.74 107.03,861.2 108.35,859.74 109.74,858.35 111.17,857.03 112.66,855.78 114.2,854.58 115.79,853.44 117.41,852.35 119.07,851.31 120.76,850.31 122.49,849.34 124.24,848.4 126.01,847.49 127.8,846.6 129.6,845.72 131.42,844.86 133.25,844 135.07,843.14 136.9,842.28 138.73,841.41 140.56,840.53 142.38,839.65 144.2,838.76 146.02,837.86 147.83,836.95 149.64,836.04 151.45,835.11 153.25,834.18 155.04,833.24 156.83,832.28 158.62,831.32 160.4,830.35 162.18,829.37 163.95,828.38 165.71,827.37 167.47,826.36 169.22,825.34 170.96,824.3 172.69,823.26 174.42,822.2 176.14,821.13 177.85,820.05 179.55,818.95 181.25,817.85 182.93,816.73 184.6,815.6 186.27,814.45 187.92,813.29 189.57,812.12 191.2,810.94 192.83,809.74 194.44,808.53 196.05,807.3 197.64,806.07 199.22,804.82 200.8,803.55 202.36,802.28 203.92,801 205.46,799.7 206.99,798.39 208.52,797.07 210.04,795.74 211.54,794.39 213.04,793.04 214.53,791.67 216,790.3 217.47,788.91 218.93,787.52 220.38,786.11 221.82,784.69 223.26,783.27 224.68,781.83 226.09,780.39 227.5,778.93 228.89,777.47 230.28,776 231.66,774.52 233.03,773.03 234.39,771.53 235.75,770.03 237.09,768.51 238.43,766.99 239.76,765.46 241.08,763.93 242.39,762.39 243.69,760.83 244.99,759.28 246.27,757.71 247.55,756.14 248.82,754.56 250.09,752.98 251.34,751.39 252.59,749.8 253.83,748.2 255.06,746.59 256.29,744.98 257.5,743.36 258.71,741.74 259.92,740.11 261.11,738.48 262.3,736.84 263.48,735.2 264.65,733.56 265.82,731.91 266.98,730.26 268.13,728.6 269.28,726.94 270.42,725.28 271.55,723.61 272.67,721.95 273.79,720.27 274.9,718.6 287,718.6" fill="none" stroke="#ff8000" stroke-width="2.4" stroke-linejoin="miter" stroke-linecap="butt" />
<polyline points="102.4,741.4 102.64,743.43 102.91,745.46 103.21,747.47 103.52,749.48 103.87,751.49 104.24,753.48 104.63,755.47 105.05,757.44 105.49,759.41 105.96,761.38 106.45,763.33 106.96,765.28 107.5,767.21 108.06,769.14 108.64,771.06 109.24,772.97 109.87,774.88 110.52,776.77 111.19,778.66 111.88,780.54 112.6,782.4 113.33,784.26 114.09,786.11 114.86,787.96 115.66,789.79 116.48,791.61 117.32,793.43 118.17,795.23 119.05,797.03 119.95,798.81 120.87,800.59 121.8,802.36 122.75,804.11 123.73,805.86 124.72,807.6 125.73,809.33 126.75,811.05 127.8,812.75 128.86,814.45 129.94,816.14 131.04,817.82 132.15,819.49 133.28,821.15 134.42,822.79 135.59,824.43 136.76,826.06 137.96,827.68 139.17,829.28 140.39,830.88 141.63,832.46 142.88,834.04 144.15,835.6 145.44,837.15 146.73,838.7 148.04,840.23 149.37,841.75 150.71,843.25 152.06,844.75 153.42,846.24 154.8,847.71 156.19,849.18 157.59,850.63 159.01,852.07 160.44,853.5 161.87,854.92 163.32,856.32 164.79,857.72 166.26,859.1 167.74,860.47 169.23,861.83 170.74,863.18 172.25,864.51 173.78,865.83 175.31,867.14 176.85,868.44 178.41,869.73 179.97,871 181.54,872.26 183.12,873.51 184.7,874.75 186.3,875.97 187.9,877.18 189.51,878.38 191.13,879.57 192.75,880.76 194.37,881.94 196,883.11 197.62,884.28 199.24,885.46 200.87,886.63 202.48,887.81 204.1,888.99 205.7,890.18 207.3,891.38 208.89,892.59 210.47,893.82 212.04,895.06 213.6,896.31 215.14,897.58 216.67,898.87 218.18,900.19 219.67,901.52 221.15,902.88 222.6,904.25 224.03,905.65 225.44,907.07 226.82,908.52 228.18,909.98 229.52,911.47 230.82,912.98 232.1,914.51 233.34,916.06 234.55,917.64 235.73,919.24 236.88,920.86 237.98,922.51 239.06,924.18 240.09,925.87 241.08,927.59 242.04,929.33 242.95,931.09 243.83,932.87 244.67,934.68 245.48,936.5 246.26,938.34 247,940.19 247.71,942.06 248.39,943.95 249.04,945.85 249.67,947.76 250.26,949.68 250.84,951.61 251.39,953.56 251.91,955.51 252.42,957.46 252.9,959.43 253.37,961.4 253.82,963.37 254.25,965.34 254.66,967.33 255.06,969.31 255.44,971.3 255.8,973.29 256.15,975.29 256.48,977.29 256.8,979.29 257.1,981.3 257.39,983.31 257.67,985.32 257.93,987.33 258.18,989.35 258.42,991.37 258.65,993.39 258.87,995.41 259.08,997.44 259.28,999.47 259.47,1001.5 259.65,1003.53 259.82,1005.56 259.98,1007.6 260.14,1009.63 260.28,1011.67 260.43,1013.7 260.56,1015.74 260.69,1017.78 260.82,1019.82 260.94,1021.85 261.05,1023.89 261.16,1025.93 261.27,1027.97 261.38,1030.01 261.48,1032.05 261.58,1034.08 261.68,1036.12 261.78,1038.15 261.88,1040.19 261.98,1042.22 262.07,1044.25 262.17,1046.28 262.27,1048.31 262.38,1050.34 262.48,1052.37 262.59,1054.39 262.7,1056.41 262.81,1058.43 262.93,1060.44 263.05,1062.46 263.18,1064.47 263.32,1066.47 263.46,1068.48 263.6,1070.48 263.75,1072.48 263.91,1074.47 264.08,1076.46 264.26,1078.45 264.44,1080.43 264.64,1082.41 264.84,1084.39 265.06,1086.36 265.28,1088.32 265.52,1090.28 265.77,1092.24 266.03,1094.19 266.3,1096.14 266.58,1098.08 266.88,1100.01 267.2,1101.94 267.52,1103.87 267.87,1105.79 268.22,1107.7" fill="none" stroke="#808000" stroke-width="2.4" stroke-linejoin="round" stroke-linecap="butt" />
<polyline points="102.4,868.6 103.37,866.9 104.43,865.28 105.58,863.73 106.81,862.25 108.12,860.83 109.5,859.48 110.95,858.18 112.46,856.94 114.03,855.74 115.65,854.59 117.32,853.49 119.03,852.43 120.79,851.4 122.58,850.41 124.39,849.44 126.24,848.5 128.1,847.58 129.98,846.69 131.86,845.81 133.76,844.94 135.65,844.07 137.54,843.22 139.43,842.36 141.31,841.51 143.18,840.66 145.05,839.81 146.91,838.96 148.76,838.11 150.61,837.26 152.45,836.4 154.28,835.54 156.11,834.68 157.93,833.81 159.74,832.93 161.54,832.05 163.34,831.16 165.13,830.26 166.92,829.35 168.69,828.44 170.46,827.51 172.22,826.57 173.98,825.61 175.72,824.65 177.46,823.67 179.19,822.67 180.92,821.66 182.63,820.63 184.34,819.58 186.04,818.52 187.73,817.44 189.41,816.33 191.08,815.21 192.75,814.07 194.4,812.91 196.05,811.73 197.69,810.53 199.33,809.32 200.95,808.09 202.57,806.84 204.17,805.58 205.77,804.31 207.37,803.02 208.95,801.72 210.53,800.4 212.1,799.07 213.66,797.73 215.21,796.38 216.76,795.02 218.29,793.65 219.83,792.27 221.35,790.88 222.86,789.48 224.37,788.07 225.87,786.66 227.36,785.24 228.85,783.81 230.33,782.38 231.8,780.94 233.26,779.5 234.72,778.05 236.17,776.6 237.61,775.15 239.04,773.7 240.47,772.24 241.89,770.79 243.31,769.33 244.71,767.87 246.11,766.42 247.51,764.96 248.89,763.51 250.27,762.05 251.65,760.6 253.01,759.14 254.37,757.69 255.72,756.23 257.07,754.76 258.41,753.3 259.74,751.83 261.07,750.35 262.39,748.87 263.7,747.38 265.01,745.88 266.31,744.37 267.61,742.86 268.9,741.34 270.18,739.8 271.45,738.26 272.72,736.7 273.99,735.13 275.25,733.55 276.5,731.95 277.74,730.34 278.98,728.72 280.22,727.08 281.45,725.42 282.67,723.74 283.88,722.05 285.1,720.33 286.3,718.6 300.5,718.6" fill="none" stroke="#808000" stroke-width="2.4" stroke-linejoin="miter" stroke-linecap="butt" />
<polyline points="102.4,742.8 102.61,744.83 102.85,746.86 103.11,748.89 103.39,750.9 103.71,752.91 104.04,754.91 104.4,756.9 104.79,758.89 105.2,760.87 105.63,762.84 106.08,764.8 106.56,766.76 107.07,768.71 107.59,770.64 108.14,772.58 108.71,774.5 109.31,776.42 109.92,778.32 110.56,780.22 111.22,782.11 111.9,784 112.6,785.87 113.33,787.73 114.07,789.59 114.83,791.44 115.62,793.28 116.42,795.11 117.25,796.93 118.09,798.74 118.96,800.55 119.84,802.34 120.74,804.12 121.67,805.9 122.61,807.67 123.56,809.42 124.54,811.17 125.54,812.91 126.55,814.64 127.58,816.35 128.63,818.06 129.69,819.76 130.77,821.45 131.87,823.13 132.99,824.8 134.12,826.45 135.26,828.1 136.43,829.74 137.61,831.37 138.8,832.98 140.01,834.59 141.23,836.19 142.47,837.77 143.73,839.35 145,840.91 146.28,842.46 147.57,844 148.88,845.53 150.21,847.05 151.54,848.56 152.89,850.06 154.25,851.54 155.63,853.02 157.02,854.48 158.42,855.93 159.83,857.37 161.25,858.8 162.69,860.21 164.13,861.61 165.59,863.01 167.06,864.39 168.54,865.75 170.02,867.11 171.52,868.45 173.03,869.78 174.55,871.1 176.08,872.41 177.62,873.7 179.17,874.98 180.72,876.25 182.29,877.51 183.86,878.75 185.44,879.99 187.02,881.22 188.6,882.44 190.19,883.66 191.78,884.88 193.37,886.1 194.95,887.32 196.53,888.55 198.11,889.78 199.68,891.01 201.24,892.26 202.8,893.52 204.34,894.79 205.87,896.07 207.39,897.37 208.9,898.69 210.39,900.03 211.86,901.39 213.32,902.77 214.75,904.16 216.17,905.58 217.56,907.02 218.93,908.48 220.27,909.96 221.59,911.46 222.88,912.98 224.15,914.52 225.38,916.09 226.58,917.67 227.75,919.28 228.88,920.91 229.98,922.57 231.04,924.24 232.07,925.94 233.05,927.66 234,929.41 234.9,931.17 235.77,932.96 236.61,934.76 237.41,936.58 238.18,938.43 238.91,940.28 239.62,942.15 240.29,944.04 240.94,945.94 241.56,947.85 242.15,949.77 242.72,951.7 243.27,953.65 243.79,955.6 244.29,957.55 244.77,959.51 245.24,961.48 245.68,963.45 246.11,965.43 246.52,967.41 246.91,969.39 247.29,971.38 247.65,973.37 247.99,975.37 248.33,977.36 248.64,979.37 248.95,981.37 249.23,983.38 249.51,985.39 249.77,987.4 250.03,989.42 250.27,991.44 250.49,993.46 250.71,995.48 250.92,997.51 251.12,999.53 251.31,1001.56 251.49,1003.59 251.66,1005.62 251.82,1007.66 251.98,1009.69 252.13,1011.73 252.27,1013.76 252.41,1015.8 252.54,1017.83 252.67,1019.87 252.79,1021.91 252.91,1023.95 253.02,1025.98 253.13,1028.02 253.24,1030.06 253.35,1032.1 253.45,1034.13 253.55,1036.17 253.65,1038.2 253.75,1040.24 253.86,1042.27 253.96,1044.3 254.06,1046.33 254.16,1048.35 254.27,1050.38 254.38,1052.4 254.49,1054.43 254.6,1056.45 254.72,1058.46 254.84,1060.48 254.97,1062.49 255.1,1064.5 255.24,1066.51 255.38,1068.51 255.53,1070.51 255.69,1072.51 255.85,1074.5 256.03,1076.49 256.21,1078.47 256.4,1080.45 256.6,1082.43 256.81,1084.41 257.02,1086.37 257.25,1088.34 257.5,1090.3 257.75,1092.25 258.01,1094.2 258.29,1096.15 258.58,1098.09 258.89,1100.02 259.2,1101.95 259.54,1103.87 259.88,1105.79 260.24,1107.7" fill="none" stroke="#00ff00" stroke-width="2.4" stroke-linejoin="round" stroke-linecap="butt" />
<polyline points="102.4,869.4 103.38,867.62 104.45,865.93 105.6,864.33 106.84,862.81 108.15,861.37 109.53,860.01 110.97,858.72 112.48,857.49 114.04,856.33 115.65,855.22 117.31,854.17 119.01,853.17 120.75,852.22 122.52,851.3 124.32,850.42 126.14,849.58 127.99,848.76 129.86,847.97 131.75,847.2 133.65,846.45 135.56,845.7 137.47,844.97 139.39,844.24 141.31,843.5 143.23,842.77 145.15,842.02 147.05,841.26 148.95,840.49 150.83,839.7 152.71,838.9 154.58,838.09 156.45,837.27 158.3,836.43 160.15,835.58 161.99,834.72 163.82,833.85 165.64,832.96 167.45,832.06 169.26,831.15 171.06,830.23 172.85,829.3 174.63,828.35 176.41,827.39 178.17,826.42 179.93,825.44 181.69,824.45 183.43,823.44 185.17,822.43 186.9,821.4 188.63,820.36 190.35,819.31 192.06,818.25 193.76,817.18 195.46,816.09 197.15,815 198.83,813.89 200.5,812.78 202.17,811.65 203.84,810.51 205.49,809.37 207.14,808.21 208.79,807.04 210.43,805.86 212.06,804.67 213.68,803.48 215.3,802.27 216.91,801.05 218.51,799.83 220.11,798.59 221.7,797.35 223.29,796.09 224.86,794.83 226.44,793.56 228,792.28 229.56,790.99 231.11,789.69 232.66,788.39 234.2,787.08 235.73,785.75 237.26,784.43 238.78,783.09 240.29,781.74 241.8,780.39 243.3,779.03 244.79,777.67 246.28,776.29 247.76,774.91 249.24,773.53 250.7,772.13 252.17,770.73 253.62,769.33 255.07,767.91 256.51,766.49 257.95,765.07 259.38,763.64 260.8,762.2 262.22,760.76 263.63,759.31 265.04,757.86 266.44,756.4 267.83,754.93 269.22,753.46 270.6,751.99 271.98,750.51 273.35,749.03 274.72,747.54 276.08,746.05 277.43,744.55 278.78,743.05 280.13,741.55 281.47,740.04 282.81,738.53 284.14,737.01 285.47,735.5 286.79,733.97 288.11,732.45 289.42,730.92 290.73,729.39 292.04,727.86 293.34,726.32 294.64,724.78 295.94,723.24 297.23,721.69 298.52,720.15 299.8,718.6 322.6,718.6" fill="none" stroke="#00ff00" stroke-width="2.4" stroke-linejoin="miter" stroke-linecap="butt" />
<polyline points="102.4,745.2 102.57,747.25 102.77,749.29 103,751.32 103.24,753.35 103.52,755.37 103.81,757.39 104.13,759.4 104.48,761.4 104.85,763.4 105.24,765.39 105.66,767.37 106.1,769.34 106.56,771.31 107.05,773.27 107.56,775.22 108.09,777.17 108.64,779.11 109.22,781.04 109.81,782.96 110.43,784.87 111.07,786.78 111.73,788.68 112.42,790.57 113.12,792.45 113.84,794.33 114.59,796.19 115.35,798.05 116.14,799.9 116.94,801.74 117.77,803.57 118.61,805.39 119.47,807.2 120.35,809.01 121.26,810.8 122.17,812.59 123.11,814.37 124.07,816.14 125.04,817.89 126.03,819.64 127.04,821.38 128.07,823.11 129.11,824.83 130.18,826.54 131.25,828.24 132.35,829.93 133.46,831.61 134.59,833.28 135.73,834.94 136.89,836.59 138.06,838.23 139.25,839.85 140.46,841.47 141.68,843.08 142.91,844.67 144.16,846.26 145.42,847.83 146.7,849.39 147.99,850.94 149.3,852.48 150.62,854.01 151.95,855.53 153.3,857.03 154.65,858.53 156.03,860.01 157.41,861.48 158.8,862.94 160.21,864.38 161.63,865.82 163.06,867.24 164.51,868.65 165.96,870.05 167.43,871.43 168.91,872.81 170.39,874.16 171.89,875.51 173.4,876.85 174.92,878.17 176.44,879.48 177.97,880.79 179.51,882.09 181.05,883.38 182.59,884.67 184.14,885.96 185.68,887.25 187.22,888.54 188.76,889.84 190.29,891.14 191.81,892.45 193.33,893.77 194.84,895.1 196.34,896.44 197.82,897.8 199.3,899.18 200.75,900.57 202.2,901.98 203.62,903.4 205.02,904.85 206.41,906.31 207.77,907.79 209.11,909.29 210.42,910.81 211.71,912.35 212.97,913.9 214.2,915.48 215.4,917.08 216.57,918.7 217.71,920.34 218.81,922 219.87,923.68 220.9,925.39 221.88,927.11 222.83,928.86 223.74,930.63 224.62,932.42 225.45,934.23 226.25,936.06 227.02,937.9 227.76,939.76 228.46,941.63 229.14,943.52 229.79,945.42 230.41,947.34 231,949.26 231.57,951.2 232.11,953.14 232.64,955.09 233.14,957.05 233.62,959.02 234.09,960.99 234.53,962.97 234.96,964.95 235.38,966.93 235.77,968.92 236.15,970.91 236.52,972.91 236.87,974.91 237.21,976.91 237.53,978.92 237.84,980.93 238.13,982.95 238.41,984.96 238.68,986.98 238.94,989.01 239.19,991.03 239.43,993.06 239.65,995.09 239.87,997.12 240.08,999.15 240.27,1001.19 240.46,1003.23 240.64,1005.26 240.81,1007.3 240.98,1009.34 241.14,1011.39 241.29,1013.43 241.44,1015.47 241.58,1017.52 241.71,1019.56 241.84,1021.61 241.97,1023.65 242.09,1025.7 242.21,1027.74 242.33,1029.79 242.45,1031.83 242.56,1033.88 242.67,1035.92 242.78,1037.96 242.89,1040 243,1042.04 243.11,1044.08 243.22,1046.12 243.33,1048.15 243.45,1050.19 243.56,1052.22 243.68,1054.25 243.8,1056.28 243.93,1058.3 244.06,1060.32 244.19,1062.34 244.33,1064.36 244.47,1066.37 244.62,1068.38 244.78,1070.39 244.94,1072.39 245.11,1074.39 245.29,1076.39 245.47,1078.38 245.66,1080.37 245.86,1082.36 246.08,1084.34 246.3,1086.31 246.53,1088.28 246.77,1090.25 247.02,1092.21 247.29,1094.16 247.56,1096.11 247.85,1098.06 248.15,1100 248.47,1101.93 248.8,1103.86 249.14,1105.78 249.5,1107.7" fill="none" stroke="#0000ff" stroke-width="2.4" stroke-linejoin="round" stroke-linecap="butt" />
<polyline points="102.4,872.6 103.26,870.77 104.21,869.04 105.24,867.38 106.36,865.79 107.55,864.29 108.81,862.85 110.14,861.48 111.54,860.18 113,858.94 114.51,857.75 116.09,856.62 117.71,855.55 119.38,854.52 121.09,853.55 122.85,852.61 124.64,851.71 126.46,850.86 128.32,850.03 130.2,849.24 132.1,848.48 134.02,847.74 135.96,847.02 137.91,846.32 139.87,845.64 141.83,844.97 143.79,844.31 145.75,843.66 147.71,843.01 149.66,842.36 151.6,841.71 153.53,841.07 155.46,840.42 157.38,839.77 159.3,839.12 161.21,838.47 163.12,837.81 165.01,837.15 166.91,836.48 168.79,835.8 170.67,835.11 172.54,834.41 174.41,833.71 176.27,832.99 178.13,832.25 179.98,831.51 181.82,830.75 183.66,829.97 185.49,829.18 187.32,828.37 189.14,827.54 190.95,826.69 192.76,825.82 194.56,824.94 196.36,824.04 198.15,823.12 199.94,822.19 201.72,821.25 203.49,820.29 205.26,819.32 207.03,818.34 208.78,817.35 210.54,816.34 212.28,815.33 214.02,814.31 215.76,813.27 217.49,812.23 219.22,811.18 220.94,810.13 222.65,809.06 224.36,807.98 226.06,806.9 227.76,805.81 229.46,804.71 231.15,803.6 232.83,802.48 234.51,801.36 236.18,800.23 237.85,799.09 239.51,797.94 241.17,796.79 242.82,795.63 244.47,794.46 246.11,793.28 247.75,792.1 249.38,790.91 251.01,789.71 252.63,788.5 254.25,787.29 255.86,786.07 257.47,784.85 259.07,783.62 260.67,782.38 262.26,781.13 263.85,779.88 265.44,778.63 267.02,777.36 268.59,776.1 270.16,774.82 271.73,773.54 273.29,772.25 274.84,770.96 276.4,769.67 277.94,768.36 279.48,767.05 281.02,765.74 282.56,764.42 284.09,763.1 285.61,761.77 287.13,760.44 288.65,759.1 290.16,757.76 291.67,756.41 293.17,755.06 294.67,753.7 296.16,752.34 297.65,750.97 299.14,749.6 300.62,748.23 302.1,746.85 303.57,745.47 305.04,744.08 306.5,742.7 307.96,741.3 309.42,739.91 310.87,738.51 312.32,737.1 313.77,735.7 315.21,734.29 316.65,732.88 318.08,731.46 319.51,730.04 320.93,728.62 322.35,727.2 323.77,725.77 325.18,724.34 326.59,722.91 328,721.48 329.4,720.04 330.8,718.6 357,718.6" fill="none" stroke="#0000ff" stroke-width="2.4" stroke-linejoin="miter" stroke-linecap="butt" />
<polyline points="102.4,747.5 102.49,749.49 102.61,751.48 102.75,753.47 102.92,755.46 103.11,757.45 103.32,759.44 103.56,761.43 103.82,763.42 104.11,765.42 104.41,767.41 104.75,769.4 105.1,771.38 105.48,773.37 105.88,775.35 106.3,777.33 106.75,779.31 107.22,781.28 107.71,783.25 108.22,785.22 108.75,787.18 109.31,789.14 109.88,791.09 110.48,793.04 111.1,794.98 111.74,796.91 112.4,798.84 113.08,800.76 113.78,802.68 114.5,804.58 115.24,806.48 116,808.37 116.78,810.25 117.57,812.13 118.39,813.99 119.23,815.85 120.08,817.69 120.96,819.52 121.85,821.35 122.76,823.16 123.69,824.96 124.64,826.75 125.61,828.52 126.59,830.29 127.59,832.05 128.61,833.79 129.64,835.52 130.69,837.24 131.76,838.95 132.84,840.64 133.94,842.33 135.06,844 136.19,845.66 137.34,847.31 138.51,848.94 139.69,850.57 140.88,852.18 142.09,853.77 143.32,855.36 144.56,856.93 145.81,858.5 147.08,860.04 148.36,861.58 149.66,863.1 150.97,864.61 152.3,866.11 153.63,867.59 154.99,869.06 156.35,870.52 157.73,871.97 159.12,873.4 160.52,874.82 161.94,876.22 163.36,877.62 164.8,879 166.25,880.37 167.7,881.74 169.16,883.1 170.62,884.46 172.09,885.82 173.56,887.18 175.03,888.55 176.49,889.92 177.95,891.3 179.41,892.69 180.86,894.09 182.3,895.5 183.74,896.93 185.16,898.38 186.57,899.85 187.97,901.34 189.35,902.85 190.71,904.38 192.06,905.92 193.38,907.48 194.68,909.06 195.96,910.66 197.22,912.27 198.45,913.9 199.65,915.54 200.82,917.2 201.97,918.88 203.08,920.57 204.15,922.28 205.19,924 206.2,925.73 207.16,927.48 208.09,929.24 208.98,931.01 209.83,932.79 210.65,934.59 211.43,936.4 212.18,938.22 212.9,940.06 213.59,941.9 214.25,943.75 214.88,945.62 215.49,947.5 216.07,949.38 216.63,951.28 217.17,953.18 217.68,955.1 218.18,957.02 218.65,958.95 219.11,960.9 219.55,962.85 219.98,964.8 220.39,966.77 220.79,968.74 221.17,970.72 221.53,972.71 221.88,974.7 222.22,976.7 222.55,978.71 222.86,980.72 223.16,982.74 223.45,984.76 223.73,986.79 223.99,988.82 224.25,990.86 224.49,992.9 224.73,994.95 224.95,997 225.17,999.05 225.38,1001.11 225.58,1003.17 225.77,1005.23 225.96,1007.29 226.13,1009.36 226.3,1011.43 226.47,1013.5 226.63,1015.57 226.78,1017.64 226.93,1019.71 227.08,1021.79 227.22,1023.86 227.35,1025.94 227.49,1028.01 227.62,1030.08 227.75,1032.16 227.87,1034.23 228,1036.3 228.12,1038.37 228.24,1040.43 228.37,1042.5 228.49,1044.56 228.61,1046.62 228.74,1048.68 228.86,1050.73 228.99,1052.78 229.12,1054.83 229.25,1056.87 229.39,1058.91 229.52,1060.94 229.67,1062.97 229.81,1064.99 229.96,1067.01 230.12,1069.02 230.28,1071.03 230.45,1073.03 230.62,1075.03 230.8,1077.01 230.99,1079 231.18,1080.97 231.38,1082.94 231.59,1084.89 231.81,1086.84 232.04,1088.79 232.28,1090.72 232.53,1092.65 232.79,1094.56 233.06,1096.47 233.34,1098.37 233.63,1100.25 233.94,1102.13 234.25,1104 234.58,1105.85 234.93,1107.7" fill="none" stroke="#000000" stroke-width="2.4" stroke-linejoin="round" stroke-linecap="butt" />
<polyline points="102.4,874.7 103.32,872.99 104.32,871.37 105.41,869.81 106.58,868.33 107.83,866.91 109.14,865.56 110.52,864.27 111.97,863.04 113.47,861.86 115.03,860.73 116.64,859.66 118.3,858.64 120,857.65 121.74,856.72 123.52,855.82 125.32,854.96 127.16,854.13 129.02,853.33 130.91,852.57 132.82,851.83 134.74,851.11 136.69,850.43 138.65,849.76 140.62,849.11 142.6,848.47 144.59,847.86 146.58,847.25 148.58,846.66 150.58,846.07 152.57,845.49 154.56,844.91 156.55,844.33 158.53,843.76 160.5,843.18 162.47,842.61 164.43,842.03 166.39,841.45 168.34,840.87 170.29,840.29 172.23,839.71 174.16,839.12 176.09,838.53 178.02,837.94 179.93,837.34 181.85,836.73 183.76,836.12 185.66,835.5 187.56,834.88 189.46,834.25 191.35,833.61 193.23,832.96 195.11,832.3 196.99,831.63 198.86,830.95 200.73,830.26 202.6,829.56 204.46,828.85 206.32,828.13 208.17,827.39 210.02,826.64 211.87,825.88 213.71,825.1 215.55,824.3 217.38,823.5 219.22,822.68 221.05,821.85 222.87,821 224.7,820.15 226.52,819.28 228.33,818.41 230.15,817.52 231.96,816.63 233.77,815.72 235.58,814.81 237.39,813.89 239.19,812.97 240.99,812.04 242.79,811.1 244.59,810.16 246.38,809.22 248.18,808.27 249.97,807.31 251.76,806.36 253.55,805.4 255.33,804.43 257.12,803.47 258.9,802.5 260.68,801.52 262.46,800.54 264.24,799.56 266.02,798.58 267.79,797.59 269.56,796.6 271.33,795.61 273.1,794.62 274.87,793.62 276.64,792.62 278.4,791.61 280.16,790.61 281.92,789.6 283.68,788.59 285.44,787.58 287.19,786.56 288.95,785.54 290.7,784.52 292.45,783.5 294.2,782.48 295.95,781.45 297.69,780.43 299.44,779.4 301.18,778.37 302.92,777.33 304.66,776.3 306.4,775.26 308.13,774.23 309.87,773.19 311.6,772.15 313.33,771.11 315.06,770.07 316.79,769.02 318.52,767.98 320.24,766.93 321.97,765.89 323.69,764.84 325.41,763.79 327.13,762.75 328.85,761.7 330.56,760.65 332.28,759.6 333.99,758.54 335.7,757.49 337.41,756.43 339.12,755.38 340.83,754.32 342.53,753.26 344.24,752.2 345.94,751.13 347.64,750.06 349.34,748.99 351.04,747.92 352.73,746.84 354.43,745.76 356.12,744.68 357.82,743.6 359.51,742.51 361.2,741.42 362.88,740.32 364.57,739.22 366.26,738.12 367.94,737.01 369.62,735.9 371.3,734.78 372.98,733.66 374.66,732.53 376.34,731.4 378.02,730.27 379.69,729.12 381.36,727.98 383.03,726.83 384.71,725.67 386.37,724.51 388.04,723.34 389.71,722.16 391.37,720.98 393.04,719.79 394.7,718.6 426,718.6" fill="none" stroke="#000000" stroke-width="2.4" stroke-linejoin="miter" stroke-linecap="butt" />
<polyline points="102.4,750 102.39,751.97 102.41,753.95 102.45,755.93 102.52,757.92 102.61,759.91 102.73,761.9 102.87,763.89 103.03,765.89 103.22,767.88 103.43,769.88 103.66,771.88 103.92,773.87 104.21,775.87 104.51,777.87 104.84,779.86 105.19,781.86 105.56,783.85 105.96,785.84 106.37,787.83 106.81,789.81 107.27,791.79 107.75,793.77 108.26,795.74 108.78,797.71 109.33,799.67 109.9,801.63 110.49,803.58 111.09,805.52 111.72,807.46 112.37,809.39 113.04,811.31 113.73,813.23 114.44,815.13 115.17,817.03 115.91,818.92 116.68,820.8 117.46,822.67 118.27,824.53 119.09,826.38 119.93,828.22 120.79,830.04 121.67,831.85 122.56,833.66 123.48,835.44 124.41,837.22 125.35,838.98 126.32,840.73 127.3,842.47 128.3,844.2 129.31,845.91 130.35,847.61 131.39,849.3 132.46,850.98 133.54,852.65 134.63,854.3 135.74,855.95 136.87,857.58 138.01,859.2 139.17,860.81 140.34,862.41 141.53,864 142.73,865.57 143.94,867.14 145.17,868.7 146.42,870.24 147.68,871.78 148.95,873.31 150.23,874.82 151.53,876.33 152.84,877.83 154.16,879.32 155.5,880.79 156.85,882.26 158.2,883.73 159.57,885.19 160.94,886.64 162.32,888.1 163.7,889.55 165.08,891.01 166.46,892.48 167.84,893.95 169.22,895.43 170.59,896.92 171.95,898.43 173.31,899.94 174.65,901.48 175.98,903.03 177.3,904.59 178.6,906.17 179.89,907.77 181.15,909.38 182.4,911 183.62,912.64 184.82,914.29 185.99,915.96 187.13,917.64 188.25,919.33 189.33,921.04 190.38,922.76 191.4,924.49 192.38,926.23 193.32,927.99 194.22,929.76 195.08,931.54 195.9,933.33 196.68,935.14 197.43,936.95 198.14,938.78 198.81,940.61 199.46,942.46 200.07,944.32 200.66,946.18 201.22,948.06 201.76,949.94 202.27,951.84 202.77,953.74 203.24,955.65 203.7,957.57 204.14,959.5 204.57,961.44 204.99,963.38 205.39,965.34 205.78,967.3 206.16,969.26 206.53,971.23 206.89,973.21 207.23,975.2 207.57,977.19 207.89,979.19 208.2,981.19 208.51,983.2 208.8,985.21 209.09,987.23 209.36,989.25 209.63,991.27 209.89,993.31 210.14,995.34 210.38,997.38 210.62,999.42 210.85,1001.46 211.07,1003.51 211.29,1005.56 211.5,1007.61 211.7,1009.66 211.9,1011.72 212.09,1013.77 212.28,1015.83 212.46,1017.89 212.64,1019.95 212.82,1022.01 212.99,1024.07 213.15,1026.13 213.32,1028.19 213.48,1030.25 213.64,1032.31 213.8,1034.37 213.95,1036.43 214.1,1038.49 214.26,1040.54 214.41,1042.59 214.56,1044.65 214.71,1046.69 214.86,1048.74 215,1050.78 215.15,1052.82 215.31,1054.86 215.46,1056.89 215.61,1058.92 215.77,1060.95 215.92,1062.97 216.08,1064.98 216.25,1067 216.41,1069 216.58,1071 216.75,1073 216.93,1074.99 217.11,1076.97 217.29,1078.95 217.48,1080.92 217.68,1082.89 217.88,1084.84 218.08,1086.79 218.29,1088.74 218.51,1090.67 218.73,1092.6 218.96,1094.52 219.2,1096.43 219.45,1098.33 219.7,1100.22 219.96,1102.11 220.23,1103.98 220.51,1105.85 220.8,1107.7" fill="none" stroke="#ff00ff" stroke-width="2.4" stroke-linejoin="round" stroke-linecap="butt" />
<polyline points="102.4,882 102.82,880.06 103.38,878.2 104.09,876.43 104.93,874.74 105.89,873.13 106.97,871.6 108.15,870.13 109.42,868.74 110.79,867.42 112.24,866.16 113.75,864.96 115.34,863.82 116.97,862.74 118.65,861.71 120.37,860.74 122.12,859.81 123.9,858.93 125.71,858.09 127.54,857.29 129.4,856.53 131.28,855.82 133.19,855.13 135.11,854.48 137.05,853.86 139.01,853.27 140.98,852.71 142.96,852.17 144.96,851.65 146.96,851.15 148.97,850.67 150.99,850.21 153.01,849.76 155.03,849.32 157.05,848.89 159.07,848.46 161.08,848.05 163.09,847.63 165.1,847.22 167.11,846.82 169.11,846.41 171.1,846.01 173.1,845.61 175.09,845.21 177.07,844.81 179.06,844.42 181.04,844.02 183.01,843.62 184.98,843.22 186.95,842.83 188.92,842.42 190.88,842.02 192.85,841.62 194.8,841.21 196.76,840.8 198.71,840.38 200.66,839.97 202.6,839.54 204.55,839.11 206.49,838.68 208.42,838.24 210.36,837.8 212.29,837.34 214.22,836.88 216.15,836.42 218.07,835.94 220,835.46 221.92,834.96 223.83,834.46 225.75,833.95 227.66,833.43 229.57,832.9 231.48,832.35 233.39,831.8 235.29,831.23 237.2,830.65 239.1,830.06 241,829.45 242.9,828.84 244.79,828.21 246.69,827.57 248.58,826.92 250.47,826.26 252.36,825.59 254.25,824.91 256.13,824.23 258.02,823.53 259.9,822.83 261.78,822.12 263.66,821.41 265.54,820.68 267.42,819.96 269.3,819.23 271.18,818.49 273.05,817.75 274.93,817 276.8,816.26 278.67,815.51 280.54,814.76 282.42,814 284.29,813.25 286.16,812.49 288.02,811.74 289.89,810.98 291.76,810.22 293.63,809.46 295.49,808.7 297.36,807.94 299.22,807.17 301.09,806.41 302.95,805.64 304.81,804.88 306.68,804.11 308.54,803.34 310.4,802.58 312.26,801.81 314.12,801.04 315.98,800.27 317.84,799.5 319.7,798.72 321.56,797.95 323.42,797.18 325.27,796.41 327.13,795.63 328.99,794.86 330.84,794.09 332.7,793.31 334.56,792.54 336.41,791.76 338.27,790.99 340.12,790.22 341.98,789.44 343.83,788.67 345.69,787.89 347.54,787.12 349.4,786.35 351.25,785.57 353.11,784.8 354.96,784.03 356.81,783.25 358.67,782.48 360.52,781.71 362.38,780.94 364.23,780.17 366.08,779.4 367.94,778.63 369.79,777.86 371.64,777.09 373.5,776.33 375.35,775.56 377.21,774.79 379.06,774.03 380.91,773.27 382.77,772.5 384.62,771.74 386.48,770.98 388.33,770.22 390.19,769.46 392.04,768.71 393.9,767.95 395.75,767.2 397.61,766.44 399.47,765.69 401.32,764.94 403.18,764.19 405.04,763.45 406.89,762.7 408.75,761.95 410.61,761.21 412.47,760.47 414.33,759.73 416.19,758.99 418.05,758.25 419.91,757.51 421.77,756.77 423.63,756.03 425.49,755.29 427.36,754.56 429.22,753.82 431.09,753.08 432.95,752.35 434.81,751.61 436.68,750.88 438.55,750.14 440.41,749.41 442.28,748.68 444.15,747.94 446.02,747.21 447.89,746.47 449.76,745.74 451.63,745 453.5,744.27 455.38,743.53 457.25,742.79 459.13,742.06 461,741.32 462.88,740.58 464.75,739.84 466.63,739.1 468.51,738.36 470.39,737.62 472.27,736.88 474.16,736.14 476.04,735.39 477.92,734.65 479.81,733.91 481.69,733.18 483.58,732.44 485.47,731.72 487.36,730.99 489.25,730.27 491.14,729.56 493.03,728.86 494.93,728.16 496.82,727.47 498.72,726.79 500.62,726.12 502.51,725.46 504.41,724.81 506.31,724.17 508.22,723.54 510.12,722.93 512.03,722.33 513.93,721.75 515.84,721.18 517.75,720.63 519.66,720.1 521.57,719.58 523.48,719.08 525.4,718.6 561.8,718.6" fill="none" stroke="#ff00ff" stroke-width="2.4" stroke-linejoin="miter" stroke-linecap="butt" />
<polyline points="102.7,895.5 102.46,893.15 102.38,890.88 102.47,888.69 102.7,886.59 103.07,884.58 103.59,882.64 104.22,880.79 104.98,879.02 105.85,877.33 106.83,875.72 107.9,874.19 109.07,872.73 110.31,871.36 111.64,870.06 113.03,868.83 114.48,867.67 116,866.59 117.57,865.57 119.19,864.61 120.87,863.71 122.59,862.87 124.36,862.08 126.17,861.34 128.01,860.64 129.89,859.99 131.8,859.37 133.73,858.8 135.69,858.25 137.67,857.73 139.66,857.24 141.67,856.77 143.68,856.32 145.7,855.88 147.73,855.46 149.75,855.04 151.78,854.63 153.8,854.23 155.81,853.84 157.83,853.46 159.84,853.08 161.86,852.7 163.87,852.34 165.88,851.98 167.88,851.62 169.89,851.27 171.89,850.93 173.9,850.59 175.9,850.26 177.9,849.93 179.9,849.6 181.89,849.28 183.89,848.97 185.88,848.66 187.87,848.35 189.87,848.04 191.86,847.74 193.84,847.44 195.83,847.15 197.82,846.86 199.8,846.57 201.79,846.28 203.77,845.99 205.75,845.71 207.74,845.43 209.72,845.15 211.7,844.87 213.68,844.59 215.65,844.32 217.63,844.04 219.61,843.76 221.58,843.49 223.56,843.21 225.53,842.94 227.51,842.66 229.48,842.39 231.46,842.11 233.43,841.83 235.4,841.55 237.37,841.27 239.34,840.99 241.32,840.7 243.29,840.42 245.26,840.13 247.23,839.84 249.2,839.54 251.17,839.25 253.14,838.95 255.11,838.65 257.08,838.34 259.05,838.03 261.02,837.72 263,837.4 264.97,837.08 266.94,836.76 268.91,836.44 270.88,836.11 272.85,835.78 274.82,835.44 276.79,835.11 278.76,834.77 280.73,834.42 282.7,834.08 284.68,833.73 286.65,833.38 288.62,833.03 290.59,832.67 292.56,832.32 294.53,831.96 296.5,831.59 298.48,831.23 300.45,830.86 302.42,830.5 304.39,830.13 306.36,829.75 308.33,829.38 310.31,829 312.28,828.63 314.25,828.25 316.22,827.87 318.19,827.48 320.17,827.1 322.14,826.71 324.11,826.33 326.08,825.94 328.06,825.55 330.03,825.16 332,824.77 333.97,824.37 335.95,823.98 337.92,823.59 339.89,823.19 341.86,822.79 343.84,822.39 345.81,822 347.78,821.6 349.76,821.2 351.73,820.8 353.71,820.4 355.68,820 357.65,819.6 359.63,819.19 361.6,818.79 363.57,818.39 365.55,817.99 367.52,817.58 369.5,817.18 371.47,816.78 373.45,816.38 375.42,815.98 377.4,815.57 379.37,815.17 381.35,814.77 383.32,814.37 385.3,813.97 387.27,813.57 389.25,813.17 391.22,812.77 393.2,812.37 395.18,811.98 397.15,811.58 399.13,811.19 401.1,810.79 403.08,810.4 405.06,810 407.03,809.61 409.01,809.22 410.99,808.83 412.97,808.45 414.94,808.06 416.92,807.68 418.9,807.29 420.88,806.91 422.85,806.53 424.83,806.15 426.81,805.77 428.79,805.4 430.77,805.03 432.74,804.66 434.72,804.29 436.7,803.92 438.68,803.55 440.66,803.19 442.64,802.83 444.62,802.47 446.6,802.11 448.58,801.76 450.56,801.41 452.54,801.06 454.52,800.71 456.5,800.37 458.48,800.03 460.46,799.69 462.44,799.35 464.43,799.02 466.41,798.69 468.39,798.36 470.37,798.03 472.35,797.7 474.33,797.38 476.32,797.06 478.3,796.75 480.28,796.43 482.27,796.12 484.25,795.81 486.23,795.5 488.22,795.2 490.2,794.89 492.18,794.59 494.17,794.29 496.15,794 498.14,793.71 500.12,793.41 502.11,793.13 504.09,792.84 506.08,792.56 508.06,792.27 510.05,791.99 512.03,791.72 514.02,791.44 516.01,791.17 517.99,790.9 519.98,790.63 521.97,790.37 523.96,790.11 525.94,789.85 527.93,789.59 529.92,789.33 531.91,789.08 533.9,788.83 535.88,788.58 537.87,788.33 539.86,788.09 541.85,787.84 543.84,787.6 545.83,787.37 547.82,787.13 549.81,786.9 551.8,786.67 553.79,786.44 555.78,786.21 557.78,785.99 559.77,785.76 561.76,785.54 563.75,785.33 565.74,785.11 567.74,784.9 569.73,784.69 571.72,784.48 573.72,784.27 575.71,784.07 577.7,783.86 579.7,783.66 581.69,783.47 583.69,783.27 585.68,783.08 587.68,782.89 589.67,782.7 591.67,782.51 593.66,782.32 595.66,782.14 597.66,781.96 599.65,781.78 601.65,781.61 603.65,781.43 605.65,781.26 607.64,781.09 609.64,780.92 611.64,780.75 613.64,780.59 615.64,780.43 617.64,780.27 619.64,780.11 621.64,779.96 623.64,779.8 625.64,779.65 627.64,779.5 629.64,779.35 631.64,779.21 633.64,779.07 635.65,778.93 637.65,778.79 639.65,778.65 641.66,778.51 643.66,778.38 645.66,778.25 647.67,778.12 649.67,777.99 651.68,777.87 653.68,777.75 655.69,777.63 657.69,777.51 659.7,777.39 661.7,777.27 663.71,777.16 665.72,777.05 667.72,776.94 669.73,776.83 671.74,776.73 673.75,776.63 675.76,776.52 677.77,776.42 679.77,776.33 681.78,776.23 683.79,776.14 685.8,776.05 687.82,775.96 689.83,775.87 691.84,775.78 693.85,775.7 695.86,775.62 697.87,775.54 699.89,775.46 701.9,775.38 703.91,775.31 705.93,775.23 707.94,775.16 709.95,775.1 711.97,775.03 713.98,774.96 716,774.9" fill="none" stroke="#ff0000" stroke-width="2.4" stroke-linejoin="round" stroke-linecap="butt" />
</g>
<line x1="277.7" y1="705" x2="593" y2="705" stroke="#000" stroke-width="2.3" stroke-dasharray="12.4 11.1"/>
<polygon points="607.5,705 592.3,701.2 593.3,705 592.3,708.8" fill="#000"/>
<line x1="302.6" y1="1004.0" x2="203.0" y2="1044.4" stroke="#000" stroke-width="2.3" stroke-dasharray="12.3 11.4"/>
<polygon points="189.4,1050.4 202,1040.22 202.74,1044.99 205.53,1048.93" fill="#000"/>
<rect x="102.1" y="663.7" width="612.8" height="493.7" fill="none" stroke="#000" stroke-width="2.3"/>
<line x1="102.1" y1="1145.02" x2="107.1" y2="1145.02" stroke="#000" stroke-width="2.2" />
<line x1="102.1" y1="1108" x2="112.1" y2="1108" stroke="#000" stroke-width="2.2" />
<line x1="102.1" y1="1070.98" x2="107.1" y2="1070.98" stroke="#000" stroke-width="2.2" />
<line x1="102.1" y1="1033.95" x2="112.1" y2="1033.95" stroke="#000" stroke-width="2.2" />
<line x1="102.1" y1="996.93" x2="107.1" y2="996.93" stroke="#000" stroke-width="2.2" />
<line x1="102.1" y1="959.9" x2="112.1" y2="959.9" stroke="#000" stroke-width="2.2" />
<line x1="102.1" y1="922.88" x2="107.1" y2="922.88" stroke="#000" stroke-width="2.2" />
<line x1="102.1" y1="885.85" x2="112.1" y2="885.85" stroke="#000" stroke-width="2.2" />
<line x1="102.1" y1="848.83" x2="107.1" y2="848.83" stroke="#000" stroke-width="2.2" />
<line x1="102.1" y1="811.8" x2="112.1" y2="811.8" stroke="#000" stroke-width="2.2" />
<line x1="102.1" y1="774.78" x2="107.1" y2="774.78" stroke="#000" stroke-width="2.2" />
<line x1="102.1" y1="737.76" x2="112.1" y2="737.76" stroke="#000" stroke-width="2.2" />
<line x1="102.1" y1="700.73" x2="107.1" y2="700.73" stroke="#000" stroke-width="2.2" />
<text transform="translate(91.8,1116.9) scale(1,1.05)" font-size="28.5" text-anchor="end" fill="#000" font-weight="bold" >2.1</text>
<text transform="translate(91.8,1042.85) scale(1,1.05)" font-size="28.5" text-anchor="end" fill="#000" font-weight="bold" >2.4</text>
<text transform="translate(91.8,968.8) scale(1,1.05)" font-size="28.5" text-anchor="end" fill="#000" font-weight="bold" >2.7</text>
<text transform="translate(91.8,894.75) scale(1,1.05)" font-size="28.5" text-anchor="end" fill="#000" font-weight="bold" >3.0</text>
<text transform="translate(91.8,820.7) scale(1,1.05)" font-size="28.5" text-anchor="end" fill="#000" font-weight="bold" >3.3</text>
<text transform="translate(91.8,746.65) scale(1,1.05)" font-size="28.5" text-anchor="end" fill="#000" font-weight="bold" >3.6</text>
<text transform="translate(91.8,672.61) scale(1,1.05)" font-size="28.5" text-anchor="end" fill="#000" font-weight="bold" >3.9</text>
<line x1="102.1" y1="1147.4" x2="102.1" y2="1157.4" stroke="#000" stroke-width="2.2" />
<line x1="178.7" y1="1152.4" x2="178.7" y2="1157.4" stroke="#000" stroke-width="2.2" />
<line x1="255.3" y1="1147.4" x2="255.3" y2="1157.4" stroke="#000" stroke-width="2.2" />
<line x1="331.9" y1="1152.4" x2="331.9" y2="1157.4" stroke="#000" stroke-width="2.2" />
<line x1="408.5" y1="1147.4" x2="408.5" y2="1157.4" stroke="#000" stroke-width="2.2" />
<line x1="485.1" y1="1152.4" x2="485.1" y2="1157.4" stroke="#000" stroke-width="2.2" />
<line x1="561.7" y1="1147.4" x2="561.7" y2="1157.4" stroke="#000" stroke-width="2.2" />
<line x1="638.3" y1="1152.4" x2="638.3" y2="1157.4" stroke="#000" stroke-width="2.2" />
<line x1="714.9" y1="1147.4" x2="714.9" y2="1157.4" stroke="#000" stroke-width="2.2" />
<text transform="translate(102.1,1189.6) scale(1,1.05)" font-size="28.5" text-anchor="middle" fill="#000" font-weight="bold" >0</text>
<text transform="translate(255.3,1189.6) scale(1,1.05)" font-size="28.5" text-anchor="middle" fill="#000" font-weight="bold" >100</text>
<text transform="translate(408.5,1189.6) scale(1,1.05)" font-size="28.5" text-anchor="middle" fill="#000" font-weight="bold" >200</text>
<text transform="translate(561.7,1189.6) scale(1,1.05)" font-size="28.5" text-anchor="middle" fill="#000" font-weight="bold" >300</text>
<text transform="translate(714.9,1189.6) scale(1,1.05)" font-size="28.5" text-anchor="middle" fill="#000" font-weight="bold" >400</text>
<line x1="579.9" y1="893.8" x2="626.1" y2="893.8" stroke="#8000ff" stroke-width="2.6" />
<text transform="translate(637.9,902.2) scale(1,1.1)" font-size="22.5" font-weight="bold" fill="#000">890</text>
<text x="676.2" y="893.6" font-size="16" font-weight="bold" fill="#000">th</text>
<line x1="579.9" y1="926.4" x2="626.1" y2="926.4" stroke="#ff8000" stroke-width="2.6" />
<text transform="translate(637.9,934.8) scale(1,1.1)" font-size="22.5" font-weight="bold" fill="#000">891</text>
<text x="676.2" y="926.2" font-size="16" font-weight="bold" fill="#000">th</text>
<line x1="579.9" y1="958.5" x2="626.1" y2="958.5" stroke="#808000" stroke-width="2.6" />
<text transform="translate(637.9,966.9) scale(1,1.1)" font-size="22.5" font-weight="bold" fill="#000">892</text>
<text x="676.2" y="958.3" font-size="16" font-weight="bold" fill="#000">th</text>
<line x1="579.9" y1="991" x2="626.1" y2="991" stroke="#00ff00" stroke-width="2.6" />
<text transform="translate(637.9,999.4) scale(1,1.1)" font-size="22.5" font-weight="bold" fill="#000">893</text>
<text x="676.2" y="990.8" font-size="16" font-weight="bold" fill="#000">th</text>
<line x1="579.9" y1="1023.5" x2="626.1" y2="1023.5" stroke="#0000ff" stroke-width="2.6" />
<text transform="translate(637.9,1031.9) scale(1,1.1)" font-size="22.5" font-weight="bold" fill="#000">894</text>
<text x="676.2" y="1023.3" font-size="16" font-weight="bold" fill="#000">th</text>
<line x1="579.9" y1="1055.8" x2="626.1" y2="1055.8" stroke="#000000" stroke-width="2.6" />
<text transform="translate(637.9,1064.2) scale(1,1.1)" font-size="22.5" font-weight="bold" fill="#000">895</text>
<text x="676.2" y="1055.6" font-size="16" font-weight="bold" fill="#000">th</text>
<line x1="579.9" y1="1088.2" x2="626.1" y2="1088.2" stroke="#ff00ff" stroke-width="2.6" />
<text transform="translate(637.9,1096.6) scale(1,1.1)" font-size="22.5" font-weight="bold" fill="#000">896</text>
<text x="676.2" y="1088" font-size="16" font-weight="bold" fill="#000">th</text>
<line x1="579.9" y1="1120.6" x2="626.1" y2="1120.6" stroke="#ff0000" stroke-width="2.6" />
<text transform="translate(637.9,1129) scale(1,1.1)" font-size="22.5" font-weight="bold" fill="#000">897</text>
<text x="676.2" y="1120.4" font-size="16" font-weight="bold" fill="#000">th</text>
<text transform="translate(250,699.1) scale(1,1.04)" font-size="26" font-weight="bold" fill="#000">890<tspan dy="-10.9" font-size="16.5">th</tspan></text>
<text transform="translate(577.4,697.8) scale(1,1.04)" font-size="26" font-weight="bold" fill="#000">897<tspan dy="-10.9" font-size="16.5">th</tspan></text>
<text transform="translate(246.5,871.8) scale(1,1.06)" font-size="22.6" font-weight="bold" letter-spacing="0.29" fill="#000">Li-In<tspan font-weight="normal">I</tspan>LPSCl<tspan font-weight="normal">I</tspan>LNO<tspan font-weight="normal">@</tspan>NCM622</text>
<text transform="translate(246.5,903.8) scale(1,1.06)" font-size="22.6" font-weight="bold" letter-spacing="0.45" fill="#000">3.8 mA cm<tspan dy="-9.2" font-size="15">-2</tspan><tspan dy="9.2">, 2.1-3.68 V, 25 </tspan><tspan dy="-9.2" font-size="15">o</tspan><tspan dy="9.2">C</tspan></text>
<text transform="translate(38.2,908.7) rotate(-90)" font-size="28.75" font-weight="bold" text-anchor="middle" fill="#000">Voltage <tspan font-weight="normal">(</tspan>V, vs. Li-In/Li<tspan dy="-11" font-size="18">+</tspan><tspan dy="11" font-weight="normal">)</tspan></text>
<text x="408.7" y="1239.6" font-size="28" font-weight="bold" text-anchor="middle" fill="#000">Capacity <tspan font-weight="normal">(</tspan>mAh g<tspan dy="-11" font-size="17.5">-1</tspan><tspan dy="11" font-weight="normal">)</tspan></text>
<text x="-4.3" y="678.5" font-size="74" text-anchor="start" fill="#000" font-weight="bold" >b</text>
<g clip-path="url(#clipC)">
<polyline points="865.7,1102.1 865.72,1100.63 865.74,1099.16 865.76,1097.69 865.78,1096.22 865.8,1094.74 865.82,1093.27 865.84,1091.79 865.86,1090.31 865.87,1088.83 865.89,1087.35 865.9,1085.87 865.92,1084.39 865.93,1082.91 865.94,1081.42 865.96,1079.94 865.97,1078.45 865.98,1076.96 865.99,1075.47 866,1073.98 866.01,1072.49 866.02,1071 866.02,1069.51 866.03,1068.02 866.04,1066.52 866.04,1065.03 866.05,1063.53 866.05,1062.03 866.06,1060.54 866.06,1059.04 866.07,1057.54 866.07,1056.04 866.07,1054.53 866.07,1053.03 866.08,1051.53 866.08,1050.03 866.08,1048.52 866.08,1047.02 866.08,1045.51 866.08,1044 866.08,1042.5 866.08,1040.99 866.07,1039.48 866.07,1037.97 866.07,1036.46 866.07,1034.95 866.06,1033.44 866.06,1031.93 866.06,1030.41 866.05,1028.9 866.05,1027.39 866.04,1025.87 866.04,1024.36 866.03,1022.84 866.03,1021.33 866.02,1019.81 866.02,1018.29 866.01,1016.78 866,1015.26 866,1013.74 865.99,1012.22 865.98,1010.7 865.97,1009.19 865.97,1007.67 865.96,1006.15 865.95,1004.63 865.94,1003.11 865.93,1001.59 865.93,1000.06 865.92,998.54 865.91,997.02 865.9,995.5 865.89,993.98 865.88,992.46 865.87,990.93 865.86,989.41 865.85,987.89 865.84,986.37 865.83,984.84 865.83,983.32 865.82,981.8 865.81,980.27 865.8,978.75 865.79,977.23 865.78,975.7 865.77,974.18 865.76,972.66 865.75,971.13 865.74,969.61 865.73,968.08 865.72,966.56 865.71,965.04 865.7,963.51 865.69,961.99 865.68,960.47 865.68,958.95 865.67,957.42 865.66,955.9 865.65,954.38 865.64,952.85 865.63,951.33 865.63,949.81 865.62,948.29 865.61,946.77 865.6,945.25 865.6,943.72 865.59,942.2 865.58,940.68 865.58,939.16 865.57,937.64 865.56,936.12 865.56,934.6 865.55,933.09 865.55,931.57 865.54,930.05 865.54,928.53 865.53,927.02 865.53,925.5 865.52,923.98 865.52,922.47 865.52,920.95 865.52,919.44 865.51,917.92 865.51,916.41 865.51,914.9 865.51,913.38 865.51,911.87 865.51,910.36 865.51,908.85 865.51,907.34 865.51,905.83 865.51,904.32 865.51,902.81 865.52,901.3 865.52,899.8 865.52,898.29 865.53,896.79 865.53,895.28 865.53,893.78 865.54,892.27 865.55,890.77 865.55,889.27 865.56,887.77 865.57,886.27 865.58,884.77 865.58,883.27 865.59,881.77 865.6,880.28 865.61,878.78 865.62,877.29 865.64,875.79 865.65,874.3 865.66,872.81 865.68,871.32 865.69,869.83 865.71,868.34 865.72,866.85 865.74,865.37 865.75,863.88 865.77,862.4 865.79,860.91 865.81,859.43 865.83,857.95 865.85,856.47 865.87,854.99 865.9,853.51 865.92,852.04 865.94,850.56 865.97,849.09 866,847.61 866.03,846.14 866.07,844.67 866.12,843.2 866.17,841.73 866.24,840.27 866.31,838.8 866.41,837.34 866.51,835.87 866.63,834.41 866.77,832.95 866.93,831.49 867.11,830.04 867.31,828.58 867.53,827.13 867.78,825.67 868.05,824.22 868.35,822.77 868.67,821.32 869.01,819.87 869.37,818.42 869.75,816.98 870.14,815.53 870.55,814.09 870.97,812.64 871.4,811.19 871.84,809.75 872.29,808.3 872.75,806.85 873.21,805.4 873.67,803.96 874.13,802.51 874.6,801.06 875.06,799.6 875.52,798.15 875.98,796.69 876.43,795.24 876.88,793.78 877.33,792.32 877.77,790.85 878.21,789.39 878.64,787.92 879.07,786.45 879.49,784.97 879.9,783.5 880.31,782.02 880.7,780.53 881.09,779.05 881.47,777.55 881.84,776.06 882.21,774.56 882.57,773.06 882.93,771.57 883.29,770.07 883.65,768.57 884.02,767.08 884.39,765.59 884.77,764.11 885.17,762.63 885.58,761.17 886,759.71 886.45,758.26 886.92,756.82 887.41,755.4 887.92,753.99 888.47,752.59 889.04,751.21 889.64,749.85 890.28,748.5 890.95,747.18 891.64,745.87 892.38,744.59 893.14,743.33 893.94,742.09 894.77,740.88 895.63,739.7 896.53,738.54 897.47,737.42 898.44,736.32 899.44,735.25 900.49,734.22 901.56,733.22 902.67,732.26 903.82,731.34 905,730.47 906.2,729.64 907.44,728.87 908.7,728.16 909.98,727.5 911.3,726.91 912.63,726.38 913.99,725.93 915.37,725.55 916.76,725.24 918.18,724.99 919.61,724.82 921.05,724.69 922.51,724.62 923.98,724.59 925.46,724.61 926.95,724.65 928.45,724.73 929.96,724.82 931.47,724.94 932.99,725.06 934.5,725.19 936.02,725.31 937.54,725.43 939.06,725.55 940.58,725.65 942.1,725.75 943.62,725.85 945.14,725.94 946.66,726.02 948.17,726.1 949.69,726.17 951.21,726.24 952.73,726.31 954.24,726.37 955.76,726.43 957.28,726.48 958.79,726.53 960.31,726.58 961.83,726.63 963.34,726.67 964.86,726.71 966.37,726.75 967.89,726.79 969.4,726.83 970.92,726.87 972.43,726.91 973.95,726.94 975.46,726.98 976.98,727.02 978.49,727.05 980.01,727.09 981.52,727.12 983.03,727.16 984.55,727.2 986.06,727.23 987.57,727.27 989.09,727.31 990.6,727.34 992.11,727.38 993.63,727.42 995.14,727.46 996.65,727.5 998.16,727.54 999.67,727.58 1001.19,727.62 1002.7,727.67 1004.21,727.71 1005.72,727.76 1007.23,727.8 1008.74,727.85 1010.25,727.9 1011.76,727.95 1013.27,727.99 1014.78,728.04 1016.29,728.09 1017.8,728.15 1019.31,728.2 1020.82,728.25 1022.33,728.3 1023.84,728.36 1025.35,728.41 1026.86,728.47 1028.37,728.52 1029.88,728.58 1031.39,728.63 1032.9,728.69 1034.41,728.75 1035.91,728.8 1037.42,728.86 1038.93,728.92 1040.44,728.98 1041.95,729.03 1043.45,729.09 1044.96,729.15 1046.47,729.21 1047.98,729.27 1049.48,729.33 1050.99,729.39 1052.5,729.45 1054,729.51 1055.51,729.57 1057.02,729.63 1058.52,729.69 1060.03,729.74 1061.54,729.8 1063.04,729.86 1064.55,729.92 1066.05,729.98 1067.56,730.04 1069.07,730.1 1070.57,730.15 1072.08,730.21 1073.58,730.27 1075.09,730.33 1076.59,730.38 1078.1,730.44 1079.6,730.5 1081.11,730.55 1082.61,730.61 1084.12,730.66 1085.62,730.71 1087.12,730.77 1088.63,730.82 1090.13,730.87 1091.64,730.92 1093.14,730.97 1094.64,731.02 1096.15,731.07 1097.65,731.12 1099.16,731.17 1100.66,731.22 1102.16,731.26 1103.67,731.31 1105.17,731.35 1106.67,731.4 1108.18,731.44 1109.68,731.48 1111.18,731.52 1112.68,731.56 1114.19,731.6 1115.69,731.64 1117.19,731.68 1118.69,731.71 1120.2,731.75 1121.7,731.78 1123.2,731.81 1124.7,731.84 1126.21,731.87 1127.71,731.9 1129.21,731.93 1130.71,731.95 1132.21,731.98 1133.72,732 1135.22,732.02 1136.72,732.04 1138.22,732.06 1139.72,732.08 1141.22,732.09 1142.73,732.11 1144.23,732.12 1145.73,732.13 1147.23,732.14 1148.73,732.15 1150.23,732.16 1151.73,732.16 1153.23,732.16 1154.74,732.16 1156.24,732.16 1157.74,732.16 1159.24,732.16 1160.74,732.15 1162.24,732.15 1163.74,732.14 1165.24,732.13 1166.74,732.12 1168.24,732.11 1169.74,732.1 1171.24,732.09 1172.74,732.08 1174.24,732.07 1175.74,732.05 1177.24,732.04 1178.75,732.03 1180.25,732.02 1181.75,732 1183.25,731.99 1184.75,731.98 1186.25,731.97 1187.75,731.96 1189.25,731.95 1190.75,731.94 1192.25,731.93 1193.75,731.92 1195.25,731.92 1196.75,731.91 1198.25,731.91 1199.75,731.91 1201.25,731.91 1202.75,731.91 1204.25,731.91 1205.75,731.92 1207.25,731.92 1208.75,731.93 1210.25,731.94 1211.75,731.95 1213.25,731.97 1214.75,731.99 1216.25,732.01 1217.75,732.03 1219.25,732.06 1220.74,732.09 1222.24,732.12 1223.74,732.15 1225.24,732.19 1226.74,732.23 1228.24,732.28 1229.74,732.33 1231.24,732.38 1232.74,732.43 1234.24,732.49 1235.74,732.56 1237.24,732.63 1238.74,732.7 1240.24,732.77 1241.74,732.85 1243.24,732.94 1244.74,733.03 1246.24,733.12 1247.74,733.22 1249.24,733.32 1250.74,733.43 1252.24,733.54 1253.74,733.66 1255.24,733.78 1256.74,733.9 1258.24,734.03 1259.74,734.16 1261.24,734.29 1262.74,734.42 1264.24,734.56 1265.74,734.7 1267.24,734.84 1268.74,734.99 1270.24,735.13 1271.74,735.28 1273.24,735.43 1274.75,735.58 1276.25,735.73 1277.75,735.88 1279.25,736.03 1280.75,736.18 1282.25,736.33 1283.75,736.49 1285.25,736.64 1286.75,736.79 1288.25,736.94 1289.75,737.09 1291.25,737.24 1292.75,737.39 1294.25,737.54 1295.75,737.68 1297.26,737.83 1298.76,737.97 1300.26,738.11 1301.76,738.24 1303.26,738.38 1304.76,738.51 1306.26,738.64 1307.76,738.77 1309.27,738.9 1310.77,739.02 1312.27,739.14 1313.77,739.26 1315.27,739.37 1316.77,739.48 1318.28,739.59 1319.78,739.7 1321.28,739.8 1322.78,739.9 1324.28,739.99 1325.79,740.09 1327.29,740.17 1328.79,740.26 1330.29,740.34 1331.8,740.42 1333.3,740.49 1334.8,740.56 1336.3,740.63 1337.81,740.69 1339.31,740.75 1340.81,740.8 1342.32,740.85 1343.82,740.9 1345.32,740.94 1346.83,740.97 1348.33,741 1349.83,741.03 1351.34,741.05 1352.84,741.07 1354.34,741.08 1355.85,741.09 1357.35,741.09 1358.86,741.09 1360.36,741.09 1361.86,741.08 1363.37,741.07 1364.87,741.05 1366.38,741.03 1367.88,741.01 1369.39,740.99 1370.89,740.96 1372.4,740.94 1373.9,740.91 1375.41,740.87 1376.91,740.84 1378.42,740.8 1379.92,740.77 1381.43,740.73 1382.94,740.69 1384.44,740.65 1385.95,740.61 1387.45,740.57 1388.96,740.53 1390.47,740.49 1391.97,740.45 1393.48,740.41 1394.99,740.37 1396.49,740.33 1398,740.3 1399.51,740.26 1401.01,740.23 1402.52,740.19 1404.03,740.16 1405.54,740.13 1407.04,740.11 1408.55,740.08 1410.06,740.06 1411.57,740.04 1413.08,740.03 1414.58,740.01 1416.09,740.01 1417.6,740" fill="none" stroke="#ff0000" stroke-width="3.2" stroke-linejoin="round" stroke-linecap="round" />
</g>
<rect x="843.4" y="664" width="613.1" height="493.4" fill="none" stroke="#000" stroke-width="2.3"/>
<line x1="843.4" y1="1143.23" x2="848.4" y2="1143.23" stroke="#000" stroke-width="2.2" />
<line x1="843.4" y1="1102.1" x2="853.4" y2="1102.1" stroke="#000" stroke-width="2.2" />
<line x1="843.4" y1="1060.97" x2="848.4" y2="1060.97" stroke="#000" stroke-width="2.2" />
<line x1="843.4" y1="1019.84" x2="853.4" y2="1019.84" stroke="#000" stroke-width="2.2" />
<line x1="843.4" y1="978.71" x2="848.4" y2="978.71" stroke="#000" stroke-width="2.2" />
<line x1="843.4" y1="937.58" x2="853.4" y2="937.58" stroke="#000" stroke-width="2.2" />
<line x1="843.4" y1="896.45" x2="848.4" y2="896.45" stroke="#000" stroke-width="2.2" />
<line x1="843.4" y1="855.32" x2="853.4" y2="855.32" stroke="#000" stroke-width="2.2" />
<line x1="843.4" y1="814.19" x2="848.4" y2="814.19" stroke="#000" stroke-width="2.2" />
<line x1="843.4" y1="773.06" x2="853.4" y2="773.06" stroke="#000" stroke-width="2.2" />
<line x1="843.4" y1="731.93" x2="848.4" y2="731.93" stroke="#000" stroke-width="2.2" />
<line x1="843.4" y1="690.8" x2="853.4" y2="690.8" stroke="#000" stroke-width="2.2" />
<text transform="translate(832.6,1111) scale(1,1.05)" font-size="28.5" text-anchor="end" fill="#000" font-weight="bold" >2.1</text>
<text transform="translate(832.6,1028.74) scale(1,1.05)" font-size="28.5" text-anchor="end" fill="#000" font-weight="bold" >2.4</text>
<text transform="translate(832.6,946.48) scale(1,1.05)" font-size="28.5" text-anchor="end" fill="#000" font-weight="bold" >2.7</text>
<text transform="translate(832.6,864.22) scale(1,1.05)" font-size="28.5" text-anchor="end" fill="#000" font-weight="bold" >3.0</text>
<text transform="translate(832.6,781.96) scale(1,1.05)" font-size="28.5" text-anchor="end" fill="#000" font-weight="bold" >3.3</text>
<text transform="translate(832.6,699.7) scale(1,1.05)" font-size="28.5" text-anchor="end" fill="#000" font-weight="bold" >3.6</text>
<line x1="865.8" y1="1147.4" x2="865.8" y2="1157.4" stroke="#000" stroke-width="2.2" />
<line x1="911.25" y1="1152.4" x2="911.25" y2="1157.4" stroke="#000" stroke-width="2.2" />
<line x1="956.7" y1="1147.4" x2="956.7" y2="1157.4" stroke="#000" stroke-width="2.2" />
<line x1="1002.15" y1="1152.4" x2="1002.15" y2="1157.4" stroke="#000" stroke-width="2.2" />
<line x1="1047.6" y1="1147.4" x2="1047.6" y2="1157.4" stroke="#000" stroke-width="2.2" />
<line x1="1093.05" y1="1152.4" x2="1093.05" y2="1157.4" stroke="#000" stroke-width="2.2" />
<line x1="1138.5" y1="1147.4" x2="1138.5" y2="1157.4" stroke="#000" stroke-width="2.2" />
<line x1="1183.95" y1="1152.4" x2="1183.95" y2="1157.4" stroke="#000" stroke-width="2.2" />
<line x1="1229.4" y1="1147.4" x2="1229.4" y2="1157.4" stroke="#000" stroke-width="2.2" />
<line x1="1274.85" y1="1152.4" x2="1274.85" y2="1157.4" stroke="#000" stroke-width="2.2" />
<line x1="1320.3" y1="1147.4" x2="1320.3" y2="1157.4" stroke="#000" stroke-width="2.2" />
<line x1="1365.75" y1="1152.4" x2="1365.75" y2="1157.4" stroke="#000" stroke-width="2.2" />
<line x1="1411.2" y1="1147.4" x2="1411.2" y2="1157.4" stroke="#000" stroke-width="2.2" />
<text transform="translate(865.8,1189.6) scale(1,1.05)" font-size="28.5" text-anchor="middle" fill="#000" font-weight="bold" >0</text>
<text transform="translate(956.7,1189.6) scale(1,1.05)" font-size="28.5" text-anchor="middle" fill="#000" font-weight="bold" >1000</text>
<text transform="translate(1047.6,1189.6) scale(1,1.05)" font-size="28.5" text-anchor="middle" fill="#000" font-weight="bold" >2000</text>
<text transform="translate(1138.5,1189.6) scale(1,1.05)" font-size="28.5" text-anchor="middle" fill="#000" font-weight="bold" >3000</text>
<text transform="translate(1229.4,1189.6) scale(1,1.05)" font-size="28.5" text-anchor="middle" fill="#000" font-weight="bold" >4000</text>
<text transform="translate(1320.3,1189.6) scale(1,1.05)" font-size="28.5" text-anchor="middle" fill="#000" font-weight="bold" >5000</text>
<text transform="translate(1411.2,1189.6) scale(1,1.05)" font-size="28.5" text-anchor="middle" fill="#000" font-weight="bold" >6000</text>
<text x="1384.6" y="780.5" font-size="28" font-weight="bold" fill="#000">897<tspan dy="-11.6" font-size="19">th</tspan></text>
<text transform="translate(1012.3,876.6) scale(1,1.06)" font-size="25" font-weight="bold" letter-spacing="0.34" fill="#000">Li-In<tspan font-weight="normal">I</tspan>LPSCl<tspan font-weight="normal">I</tspan>LNO<tspan font-weight="normal">@</tspan>NCM622</text>
<text transform="translate(1012.3,912.2) scale(1,1.06)" font-size="25" font-weight="bold" letter-spacing="0.48" fill="#000">3.8 mA cm<tspan dy="-10.2" font-size="16.5">-2</tspan><tspan dy="10.2">, 2.1-3.68 V, 25 </tspan><tspan dy="-10.2" font-size="16.5">o</tspan><tspan dy="10.2">C</tspan></text>
<text transform="translate(764.3,897.2) rotate(-90)" font-size="28.66" font-weight="bold" text-anchor="middle" fill="#000">Voltage <tspan font-weight="normal">(</tspan>V, vs.Li-In<tspan font-weight="normal">)</tspan></text>
<text x="1150.3" y="1240.2" font-size="28" font-weight="bold" text-anchor="middle" fill="#000">Capacity <tspan font-weight="normal">(</tspan>mAh g<tspan dy="-11" font-size="17.5">-1</tspan><tspan dy="11" font-weight="normal">)</tspan></text>
<text transform="translate(737.3,678.8) scale(0.975,1)" font-size="75" font-weight="bold" fill="#000">c</text>
</svg>
</body></html>
